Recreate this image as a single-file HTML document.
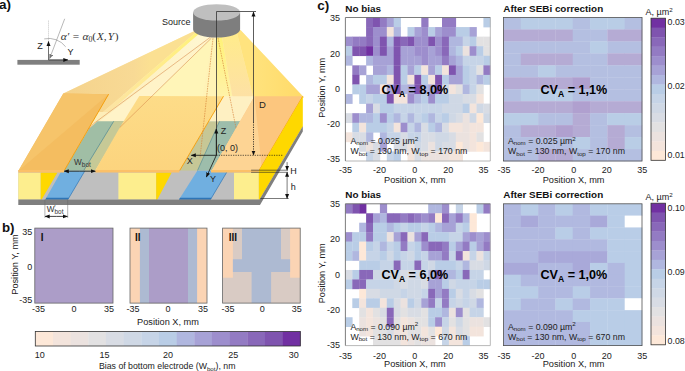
<!DOCTYPE html>
<html><head><meta charset="utf-8"><style>
html,body{margin:0;padding:0;background:#fff;}
body{width:685px;height:371px;overflow:hidden;}
svg{display:block;font-family:"Liberation Sans",sans-serif;}
</style></head><body>
<svg width="685" height="371" viewBox="0 0 685 371">
<defs>
<linearGradient id="beam" gradientUnits="userSpaceOnUse" x1="60" y1="0" x2="305" y2="0">
<stop offset="0" stop-color="#f4d18c"/>
<stop offset="0.28" stop-color="#f7da9c"/>
<stop offset="0.37" stop-color="#fbe6b2"/>
<stop offset="0.45" stop-color="#fdf0c8"/>
<stop offset="0.58" stop-color="#fff6d6"/>
<stop offset="0.64" stop-color="#fff3b0"/>
<stop offset="0.68" stop-color="#fff08f"/>
<stop offset="0.74" stop-color="#ffe887"/>
<stop offset="0.82" stop-color="#ffe27a"/>
<stop offset="1" stop-color="#ffdb6c"/>
</linearGradient>
<linearGradient id="cylb" x1="0" y1="0" x2="1" y2="0">
<stop offset="0" stop-color="#7a7a7a"/>
<stop offset="0.5" stop-color="#858585"/>
<stop offset="1" stop-color="#7a7a7a"/>
</linearGradient>
<marker id="ah" viewBox="0 0 10 10" refX="9" refY="5" markerWidth="5" markerHeight="5" orient="auto-start-reverse" markerUnits="userSpaceOnUse">
<path d="M0 1 L10 5 L0 9 Z" fill="#111"/>
</marker>
<marker id="ahg" viewBox="0 0 10 10" refX="9" refY="5" markerWidth="5" markerHeight="5" orient="auto-start-reverse" markerUnits="userSpaceOnUse">
<path d="M0 1 L10 5 L0 9 Z" fill="#777"/>
</marker>
</defs>

<!-- panel label -->
<text x="-1.0" y="9.4" font-size="13.5" font-weight="bold" fill="#111">a)</text>

<!-- inset angle diagram -->
<rect x="17.4" y="59.9" width="62.3" height="4.8" fill="#7f7f7f"/>
<line x1="48.5" y1="41.5" x2="48.5" y2="20.5" stroke="#888" stroke-width="0.6" stroke-dasharray="0.8,1.2"/>
<line x1="48.5" y1="59.9" x2="48.5" y2="41.5" stroke="#333" stroke-width="0.7" marker-end="url(#ah)"/>
<line x1="48.5" y1="59.9" x2="67.8" y2="59.9" stroke="#222" stroke-width="0.8" marker-end="url(#ah)"/>
<line x1="64.7" y1="18.8" x2="49.6" y2="58.6" stroke="#888" stroke-width="0.6" marker-end="url(#ahg)"/>
<path d="M44.2 38.9 A21.4 21.4 0 0 1 65.7 46.8" fill="none" stroke="#888" stroke-width="0.6"/>
<text x="40.1" y="49.2" font-size="9" text-anchor="middle" fill="#222">Z</text>
<text x="70.4" y="55.3" font-size="9" text-anchor="middle" fill="#222">Y</text>
<text x="60.7" y="39.6" font-size="11.4" font-family="Liberation Serif, serif" font-style="italic" fill="#333">α′<tspan dx="2.8">=</tspan><tspan dx="2.8">α</tspan><tspan font-size="7.8" dy="2" font-style="normal">0</tspan><tspan dy="-2" font-style="normal">(</tspan><tspan dx="0.6">X</tspan><tspan font-style="normal">,</tspan><tspan dx="1.2">Y</tspan><tspan font-style="normal" dx="0.6">)</tspan></text>

<!-- beam behind (back faces) -->
<linearGradient id="tanG" gradientUnits="userSpaceOnUse" x1="70" y1="0" x2="150" y2="0">
<stop offset="0" stop-color="#f5d38d"/><stop offset="0.8" stop-color="#f8da95"/><stop offset="1" stop-color="#fbe092"/>
</linearGradient>
<linearGradient id="pkG" gradientUnits="userSpaceOnUse" x1="0" y1="35" x2="0" y2="100">
<stop offset="0" stop-color="#ffeb8c"/><stop offset="1" stop-color="#fde0a6"/>
</linearGradient>
<linearGradient id="rfG" gradientUnits="userSpaceOnUse" x1="250" y1="0" x2="304" y2="0">
<stop offset="0" stop-color="#ffe37e"/><stop offset="1" stop-color="#ffda68"/>
</linearGradient>
<linearGradient id="ybG" gradientUnits="userSpaceOnUse" x1="200" y1="33" x2="106" y2="112">
<stop offset="0" stop-color="#fff27a"/><stop offset="0.5" stop-color="#ffeb90"/><stop offset="1" stop-color="#fce3a4"/>
</linearGradient>
<linearGradient id="ltG" gradientUnits="userSpaceOnUse" x1="207" y1="35" x2="100" y2="110">
<stop offset="0" stop-color="#fff7d2"/><stop offset="1" stop-color="#fdedb8"/>
</linearGradient>
<polygon points="193.4,31.5 240.5,30 304,97.5 63.3,93.5" fill="#fdeec0"/>
<polygon points="108.6,94.2 139.6,96 94.8,171 64,171" fill="#fbe6b0"/>
<polygon points="193.4,31.5 197,31.5 124,94.2 103,112 98.3,112 63.3,93.5" fill="url(#tanG)"/>
<polygon points="197,31.5 201.8,31.5 130,94.3 109.5,112 103,112 124,94.2" fill="url(#ybG)"/>
<polygon points="201.8,31.5 209,34 210.1,37.4 88.8,129.1 70,129.1 98.3,112 109.5,112 130,94.3" fill="url(#ltG)"/>
<polygon points="210.1,37.4 211.2,38.3 119.8,127.5 88.8,129.1" fill="#fff3c8"/>
<polygon points="211.2,38.3 213,38.3 202,100 119.8,127.5" fill="#fff5b8"/>
<polygon points="213,38.3 216.3,38.3 216.3,100 202,100" fill="#fff3b6"/>
<linearGradient id="brG" gradientUnits="userSpaceOnUse" x1="0" y1="36" x2="0" y2="100">
<stop offset="0" stop-color="#fff277"/><stop offset="1" stop-color="#fff2aa"/>
</linearGradient>
<polygon points="216.3,37.6 222,37 233,100 216.3,100" fill="url(#brG)"/>
<polygon points="222,37 237,33 254,100 233,100" fill="url(#pkG)"/>
<polygon points="237,33 240.5,30 304,97.5 254,100" fill="url(#rfG)"/>

<!-- substrate top surface: blocks -->
<!-- left block -->
<polygon points="63.3,93.5 108.6,94.2 64,171 18.3,171" fill="#f4bd60"/>
<polygon points="63.3,93.5 108.6,94.2 18.3,171" fill="#f6c46a"/>
<!-- trench 1 green/khaki -->
<polygon points="97.5,121.3 124.3,121.3 94.8,171 64,171 88.8,129.1" fill="#a0bea5"/>
<polygon points="113.7,121.3 124.3,121.3 94.8,171 83.4,171" fill="#c6c996"/>
<line x1="113.7" y1="121.3" x2="83.4" y2="171" stroke="#3d7d92" stroke-width="0.6"/>
<!-- middle block -->
<linearGradient id="mbG" gradientUnits="userSpaceOnUse" x1="0" y1="96" x2="0" y2="171">
<stop offset="0" stop-color="#fddc88"/><stop offset="1" stop-color="#fcd47e"/>
</linearGradient>
<polygon points="139.3,96 223.5,96.2 179.4,171 94.8,171 119.8,127.5" fill="url(#mbG)"/>
<!-- trench 2 -->
<polygon points="223.5,96.2 254.5,96.3 240.2,121.3 208.8,121.3" fill="#fef0c2"/>
<polygon points="208.8,121.3 240.2,121.3 211.5,171 179.4,171" fill="#c6c796"/>
<polygon points="219.5,121.3 240.2,121.3 211.5,171 197.3,171" fill="#9dbdab"/>
<line x1="219.5" y1="121.3" x2="197.3" y2="171" stroke="#3d7d92" stroke-width="0.5"/>
<!-- right block -->
<linearGradient id="rbG" gradientUnits="userSpaceOnUse" x1="225" y1="0" x2="295" y2="0">
<stop offset="0" stop-color="#fdd694"/><stop offset="1" stop-color="#fcc47a"/>
</linearGradient>
<polygon points="254.5,96.3 302.8,96.3 258.8,171 211.5,171" fill="#fcc67e"/>
<polygon points="254.5,96.3 211.5,171 262,171" fill="#fdd494"/>

<!-- block edges (bright orange) -->
<line x1="108.6" y1="94.2" x2="64" y2="171" stroke="#f59a00" stroke-width="0.9"/>
<line x1="223.5" y1="96.2" x2="179.4" y2="171" stroke="#f59a00" stroke-width="0.9"/>
<line x1="302.8" y1="96.3" x2="258.8" y2="171" stroke="#f59a00" stroke-width="0.9"/>


<!-- front face -->
<rect x="18.3" y="170.6" width="240.5" height="29.1" fill="#bfbfbf"/>
<rect x="18.3" y="172.6" width="22.4" height="27.1" fill="#fdee8e"/>
<polygon points="40.7,172.6 57.5,172.6 41.5,199.7 40.7,199.7" fill="#fed800"/>
<polygon points="61.5,170.8 84.9,170.8 67.8,199.7 45.2,199.7" fill="#70afe0"/>
<line x1="84.9" y1="170.8" x2="67.8" y2="199.7" stroke="#2e75b6" stroke-width="0.7"/>
<polygon points="46.3,197.8 68.9,197.8 67.8,199.7 45.2,199.7" fill="#2e75b6"/>
<rect x="118.4" y="172.6" width="37.8" height="27.1" fill="#fdee8e"/>
<polygon points="156.2,172.6 171.7,172.6 157.2,199.7 156.2,199.7" fill="#fed800"/>
<polygon points="197.3,170.8 227.6,170.8 210.4,199.7 178.9,199.7" fill="#70afe0"/>
<line x1="227.6" y1="170.8" x2="210.4" y2="199.7" stroke="#2e75b6" stroke-width="0.7"/>
<polygon points="180,197.8 211.5,197.8 210.4,199.7 178.9,199.7" fill="#2e75b6"/>
<rect x="234" y="172.6" width="24.8" height="27.1" fill="#fdee8e"/>

<!-- front edge band (top layer thickness) -->
<polygon points="18.3,170 64,170 64,172.6 18.3,172.6" fill="#fbc068"/>
<polygon points="95.2,170 179.4,170 179.4,172.6 95.2,172.6" fill="#fbc068"/>
<polygon points="211,170 258.8,170 258.8,172.6 211,172.6" fill="#fbc068"/>

<!-- right side face -->
<polygon points="258.8,171 302.8,96.3 302.8,126.5 259.5,199.7 258.8,199.7" fill="#fed800"/>
<!-- base strip -->
<polygon points="18.3,199.6 259.5,199.6 302.8,126.3 302.8,131.5 260,205 18.3,205" fill="#7f7f7f"/>

<!-- trench front edges on top -->
<line x1="64" y1="171" x2="95.2" y2="171" stroke="#b8c7a2" stroke-width="0.5"/>

<!-- beam rays -->
<polyline points="210.1,37.4 93.5,123.7 88.8,129.1" fill="none" stroke="#d6874a" stroke-width="0.55"/>
<line x1="211.2" y1="38.3" x2="119.8" y2="127.5" stroke="#d6874a" stroke-width="0.55"/>
<line x1="213" y1="38.3" x2="200" y2="158" stroke="#d47a30" stroke-width="0.6" stroke-dasharray="1.6,0.9"/>
<line x1="218" y1="38" x2="236" y2="128" stroke="#d47a30" stroke-width="0.6" stroke-dasharray="1.6,0.9"/>

<!-- source cylinder -->
<path d="M193.1 12.4 V29.4 A23.5 8.2 0 0 0 240.1 29.4 V12.4 Z" fill="#7e7e7e"/>
<ellipse cx="216.6" cy="12.4" rx="23.5" ry="8.2" fill="#bfbfbf"/>
<text x="190.6" y="25.2" font-size="9" text-anchor="end" fill="#222">Source</text>

<!-- D line and axes -->
<polyline points="216.5,155.3 216.5,11.5 256,11.5" fill="none" stroke="#333" stroke-width="0.8"/>
<line x1="253.5" y1="122" x2="253.5" y2="12" stroke="#333" stroke-width="0.8" marker-end="url(#ah)"/>
<line x1="253.5" y1="122" x2="253.5" y2="155" stroke="#111" stroke-width="0.8" stroke-dasharray="1.2,1.2" marker-end="url(#ah)"/>
<text x="262.5" y="108" font-size="9.5" text-anchor="middle" fill="#222">D</text>
<line x1="216.3" y1="155.3" x2="283" y2="155.3" stroke="#111" stroke-width="0.7" stroke-dasharray="1.2,1.2"/>
<line x1="216.3" y1="155.3" x2="216.3" y2="129" stroke="#111" stroke-width="0.8" marker-end="url(#ah)"/>
<line x1="216.3" y1="155.3" x2="191.3" y2="155.3" stroke="#111" stroke-width="0.8" marker-end="url(#ah)"/>
<line x1="216.3" y1="155.3" x2="206.4" y2="177" stroke="#111" stroke-width="0.8" marker-end="url(#ah)"/>
<text x="223.4" y="134.4" font-size="9" text-anchor="middle" fill="#222">Z</text>
<text x="189.8" y="164.3" font-size="9" text-anchor="middle" fill="#222">X</text>
<text x="213" y="182.2" font-size="9" text-anchor="middle" fill="#222">Y</text>
<text x="227.5" y="151" font-size="9" text-anchor="middle" fill="#222">(0, 0)</text>

<!-- H / h -->
<line x1="251.1" y1="170.2" x2="287.9" y2="170.2" stroke="#222" stroke-width="0.6"/>
<line x1="251.1" y1="172.3" x2="287.9" y2="172.3" stroke="#222" stroke-width="0.6"/>
<line x1="260.4" y1="198.5" x2="288.7" y2="198.5" stroke="#222" stroke-width="0.6"/>
<line x1="287.1" y1="162.1" x2="287.1" y2="170.2" stroke="#222" stroke-width="0.6" marker-end="url(#ah)"/>
<line x1="287.1" y1="185" x2="287.1" y2="172.3" stroke="#222" stroke-width="0.6" marker-end="url(#ah)"/>
<line x1="287.1" y1="185" x2="287.1" y2="198.5" stroke="#222" stroke-width="0.6" marker-end="url(#ah)"/>
<text x="293.4" y="174.3" font-size="9" text-anchor="middle" fill="#222">H</text>
<text x="293.2" y="190.4" font-size="9" text-anchor="middle" fill="#222">h</text>

<!-- W_bot arrow -->
<line x1="79.6" y1="171.2" x2="64.3" y2="171.2" stroke="#111" stroke-width="0.8" marker-end="url(#ah)"/>
<line x1="79.6" y1="171.2" x2="95.3" y2="171.2" stroke="#111" stroke-width="0.8" marker-end="url(#ah)"/>
<text x="74.1" y="165" font-size="8.2" fill="#333">W<tspan font-size="6.4" dy="1.9">bot</tspan></text>

<!-- W'bot bracket -->
<line x1="44.9" y1="199.7" x2="44.9" y2="218" stroke="#666" stroke-width="0.5"/>
<line x1="67.7" y1="199.7" x2="67.7" y2="218" stroke="#666" stroke-width="0.5"/>
<line x1="56.3" y1="216.4" x2="45.2" y2="216.4" stroke="#111" stroke-width="0.8" marker-end="url(#ah)"/>
<line x1="56.3" y1="216.4" x2="67.4" y2="216.4" stroke="#111" stroke-width="0.8" marker-end="url(#ah)"/>
<text x="46.8" y="211.9" font-size="8.2" fill="#333">W<tspan font-size="6.4" dy="1.7">bot</tspan></text>
<text x="54.3" y="209.6" font-size="7" fill="#333">'</text>

<text x="317.3" y="9.7" font-size="13.5" text-anchor="start" font-weight="bold" fill="#111" >c)</text>
<rect x="366.10" y="17.50" width="7.20" height="9.87" fill="#8968b9"/>
<rect x="373.00" y="17.50" width="7.20" height="9.87" fill="#7f54af"/>
<rect x="379.90" y="17.50" width="7.20" height="9.87" fill="#937bc3"/>
<rect x="386.80" y="17.50" width="7.20" height="9.87" fill="#a7a2d6"/>
<rect x="393.70" y="17.50" width="7.20" height="9.87" fill="#b9cde6"/>
<rect x="421.30" y="17.50" width="7.20" height="9.87" fill="#937bc3"/>
<rect x="442.00" y="17.50" width="7.20" height="9.87" fill="#937bc3"/>
<rect x="448.90" y="17.50" width="7.20" height="9.87" fill="#937bc3"/>
<rect x="483.40" y="17.50" width="7.20" height="9.87" fill="#b9cde6"/>
<rect x="366.10" y="27.07" width="7.20" height="9.87" fill="#8968b9"/>
<rect x="373.00" y="27.07" width="7.20" height="9.87" fill="#9d8ecd"/>
<rect x="379.90" y="27.07" width="7.20" height="9.87" fill="#9d8ecd"/>
<rect x="386.80" y="27.07" width="7.20" height="9.87" fill="#f3e4dc"/>
<rect x="393.70" y="27.07" width="7.20" height="9.87" fill="#b0b7df"/>
<rect x="407.50" y="27.07" width="7.20" height="9.87" fill="#b9cde6"/>
<rect x="414.40" y="27.07" width="7.20" height="9.87" fill="#a7a2d6"/>
<rect x="421.30" y="27.07" width="7.20" height="9.87" fill="#9d8ecd"/>
<rect x="428.20" y="27.07" width="7.20" height="9.87" fill="#b9cde6"/>
<rect x="435.10" y="27.07" width="7.20" height="9.87" fill="#a7a2d6"/>
<rect x="442.00" y="27.07" width="7.20" height="9.87" fill="#9d8ecd"/>
<rect x="448.90" y="27.07" width="7.20" height="9.87" fill="#9d8ecd"/>
<rect x="455.80" y="27.07" width="7.20" height="9.87" fill="#b9cde6"/>
<rect x="462.70" y="27.07" width="7.20" height="9.87" fill="#b9cde6"/>
<rect x="469.60" y="27.07" width="7.20" height="9.87" fill="#a7a2d6"/>
<rect x="345.40" y="36.63" width="7.20" height="9.87" fill="#9d8ecd"/>
<rect x="352.30" y="36.63" width="7.20" height="9.87" fill="#937bc3"/>
<rect x="359.20" y="36.63" width="7.20" height="9.87" fill="#937bc3"/>
<rect x="366.10" y="36.63" width="7.20" height="9.87" fill="#8968b9"/>
<rect x="373.00" y="36.63" width="7.20" height="9.87" fill="#9d8ecd"/>
<rect x="379.90" y="36.63" width="7.20" height="9.87" fill="#7f54af"/>
<rect x="386.80" y="36.63" width="7.20" height="9.87" fill="#b0b7df"/>
<rect x="393.70" y="36.63" width="7.20" height="9.87" fill="#7f54af"/>
<rect x="400.60" y="36.63" width="7.20" height="9.87" fill="#8968b9"/>
<rect x="407.50" y="36.63" width="7.20" height="9.87" fill="#7f54af"/>
<rect x="414.40" y="36.63" width="7.20" height="9.87" fill="#9d8ecd"/>
<rect x="421.30" y="36.63" width="7.20" height="9.87" fill="#9d8ecd"/>
<rect x="428.20" y="36.63" width="7.20" height="9.87" fill="#7f54af"/>
<rect x="435.10" y="36.63" width="7.20" height="9.87" fill="#9d8ecd"/>
<rect x="442.00" y="36.63" width="7.20" height="9.87" fill="#8968b9"/>
<rect x="448.90" y="36.63" width="7.20" height="9.87" fill="#b0b7df"/>
<rect x="455.80" y="36.63" width="7.20" height="9.87" fill="#b0b7df"/>
<rect x="462.70" y="36.63" width="7.20" height="9.87" fill="#c6d4e7"/>
<rect x="469.60" y="36.63" width="7.20" height="9.87" fill="#b9cde6"/>
<rect x="476.50" y="36.63" width="7.20" height="9.87" fill="#e2e1e2"/>
<rect x="483.40" y="36.63" width="7.20" height="9.87" fill="#e2e1e2"/>
<rect x="345.40" y="46.20" width="7.20" height="9.87" fill="#b9cde6"/>
<rect x="352.30" y="46.20" width="7.20" height="9.87" fill="#7f54af"/>
<rect x="359.20" y="46.20" width="7.20" height="9.87" fill="#7f54af"/>
<rect x="366.10" y="46.20" width="7.20" height="9.87" fill="#7130a2"/>
<rect x="373.00" y="46.20" width="7.20" height="9.87" fill="#9d8ecd"/>
<rect x="379.90" y="46.20" width="7.20" height="9.87" fill="#7f54af"/>
<rect x="386.80" y="46.20" width="7.20" height="9.87" fill="#a7a2d6"/>
<rect x="393.70" y="46.20" width="7.20" height="9.87" fill="#7f54af"/>
<rect x="400.60" y="46.20" width="7.20" height="9.87" fill="#a7a2d6"/>
<rect x="407.50" y="46.20" width="7.20" height="9.87" fill="#a7a2d6"/>
<rect x="414.40" y="46.20" width="7.20" height="9.87" fill="#9d8ecd"/>
<rect x="421.30" y="46.20" width="7.20" height="9.87" fill="#9d8ecd"/>
<rect x="428.20" y="46.20" width="7.20" height="9.87" fill="#a7a2d6"/>
<rect x="435.10" y="46.20" width="7.20" height="9.87" fill="#9d8ecd"/>
<rect x="442.00" y="46.20" width="7.20" height="9.87" fill="#8968b9"/>
<rect x="448.90" y="46.20" width="7.20" height="9.87" fill="#b0b7df"/>
<rect x="455.80" y="46.20" width="7.20" height="9.87" fill="#b9cde6"/>
<rect x="462.70" y="46.20" width="7.20" height="9.87" fill="#ebe2df"/>
<rect x="469.60" y="46.20" width="7.20" height="9.87" fill="#9d8ecd"/>
<rect x="476.50" y="46.20" width="7.20" height="9.87" fill="#b9cde6"/>
<rect x="483.40" y="46.20" width="7.20" height="9.87" fill="#e2e1e2"/>
<rect x="345.40" y="55.77" width="7.20" height="9.87" fill="#b0b7df"/>
<rect x="366.10" y="55.77" width="7.20" height="9.87" fill="#b0b7df"/>
<rect x="373.00" y="55.77" width="7.20" height="9.87" fill="#a7a2d6"/>
<rect x="379.90" y="55.77" width="7.20" height="9.87" fill="#a7a2d6"/>
<rect x="386.80" y="55.77" width="7.20" height="9.87" fill="#a7a2d6"/>
<rect x="393.70" y="55.77" width="7.20" height="9.87" fill="#7f54af"/>
<rect x="400.60" y="55.77" width="7.20" height="9.87" fill="#a7a2d6"/>
<rect x="407.50" y="55.77" width="7.20" height="9.87" fill="#a7a2d6"/>
<rect x="414.40" y="55.77" width="7.20" height="9.87" fill="#a7a2d6"/>
<rect x="421.30" y="55.77" width="7.20" height="9.87" fill="#9d8ecd"/>
<rect x="428.20" y="55.77" width="7.20" height="9.87" fill="#a7a2d6"/>
<rect x="435.10" y="55.77" width="7.20" height="9.87" fill="#a7a2d6"/>
<rect x="442.00" y="55.77" width="7.20" height="9.87" fill="#937bc3"/>
<rect x="448.90" y="55.77" width="7.20" height="9.87" fill="#a7a2d6"/>
<rect x="455.80" y="55.77" width="7.20" height="9.87" fill="#b0b7df"/>
<rect x="462.70" y="55.77" width="7.20" height="9.87" fill="#c6d4e7"/>
<rect x="469.60" y="55.77" width="7.20" height="9.87" fill="#c6d4e7"/>
<rect x="476.50" y="55.77" width="7.20" height="9.87" fill="#c6d4e7"/>
<rect x="483.40" y="55.77" width="7.20" height="9.87" fill="#b9cde6"/>
<rect x="352.30" y="65.33" width="7.20" height="9.87" fill="#937bc3"/>
<rect x="359.20" y="65.33" width="7.20" height="9.87" fill="#a7a2d6"/>
<rect x="373.00" y="65.33" width="7.20" height="9.87" fill="#a7a2d6"/>
<rect x="379.90" y="65.33" width="7.20" height="9.87" fill="#a7a2d6"/>
<rect x="386.80" y="65.33" width="7.20" height="9.87" fill="#b0b7df"/>
<rect x="393.70" y="65.33" width="7.20" height="9.87" fill="#7f54af"/>
<rect x="400.60" y="65.33" width="7.20" height="9.87" fill="#b9cde6"/>
<rect x="407.50" y="65.33" width="7.20" height="9.87" fill="#a7a2d6"/>
<rect x="414.40" y="65.33" width="7.20" height="9.87" fill="#b9cde6"/>
<rect x="421.30" y="65.33" width="7.20" height="9.87" fill="#f3e4dc"/>
<rect x="428.20" y="65.33" width="7.20" height="9.87" fill="#a7a2d6"/>
<rect x="435.10" y="65.33" width="7.20" height="9.87" fill="#b9cde6"/>
<rect x="442.00" y="65.33" width="7.20" height="9.87" fill="#f3e4dc"/>
<rect x="448.90" y="65.33" width="7.20" height="9.87" fill="#7f54af"/>
<rect x="455.80" y="65.33" width="7.20" height="9.87" fill="#a7a2d6"/>
<rect x="462.70" y="65.33" width="7.20" height="9.87" fill="#b9cde6"/>
<rect x="469.60" y="65.33" width="7.20" height="9.87" fill="#c6d4e7"/>
<rect x="476.50" y="65.33" width="7.20" height="9.87" fill="#e2e1e2"/>
<rect x="483.40" y="65.33" width="7.20" height="9.87" fill="#937bc3"/>
<rect x="352.30" y="74.90" width="7.20" height="9.87" fill="#7f54af"/>
<rect x="366.10" y="74.90" width="7.20" height="9.87" fill="#b0b7df"/>
<rect x="373.00" y="74.90" width="7.20" height="9.87" fill="#b9cde6"/>
<rect x="379.90" y="74.90" width="7.20" height="9.87" fill="#b9cde6"/>
<rect x="386.80" y="74.90" width="7.20" height="9.87" fill="#f3e4dc"/>
<rect x="393.70" y="74.90" width="7.20" height="9.87" fill="#7f54af"/>
<rect x="400.60" y="74.90" width="7.20" height="9.87" fill="#b9cde6"/>
<rect x="407.50" y="74.90" width="7.20" height="9.87" fill="#f3e4dc"/>
<rect x="414.40" y="74.90" width="7.20" height="9.87" fill="#7f54af"/>
<rect x="421.30" y="74.90" width="7.20" height="9.87" fill="#b9cde6"/>
<rect x="428.20" y="74.90" width="7.20" height="9.87" fill="#f3e4dc"/>
<rect x="435.10" y="74.90" width="7.20" height="9.87" fill="#7f54af"/>
<rect x="442.00" y="74.90" width="7.20" height="9.87" fill="#b9cde6"/>
<rect x="448.90" y="74.90" width="7.20" height="9.87" fill="#a7a2d6"/>
<rect x="455.80" y="74.90" width="7.20" height="9.87" fill="#a7a2d6"/>
<rect x="462.70" y="74.90" width="7.20" height="9.87" fill="#b9cde6"/>
<rect x="469.60" y="74.90" width="7.20" height="9.87" fill="#c6d4e7"/>
<rect x="476.50" y="74.90" width="7.20" height="9.87" fill="#b0b7df"/>
<rect x="483.40" y="74.90" width="7.20" height="9.87" fill="#b9cde6"/>
<rect x="352.30" y="84.47" width="7.20" height="9.87" fill="#b9cde6"/>
<rect x="359.20" y="84.47" width="7.20" height="9.87" fill="#b9cde6"/>
<rect x="366.10" y="84.47" width="7.20" height="9.87" fill="#a7a2d6"/>
<rect x="373.00" y="84.47" width="7.20" height="9.87" fill="#a7a2d6"/>
<rect x="379.90" y="84.47" width="7.20" height="9.87" fill="#f3e4dc"/>
<rect x="386.80" y="84.47" width="7.20" height="9.87" fill="#a7a2d6"/>
<rect x="393.70" y="84.47" width="7.20" height="9.87" fill="#7f54af"/>
<rect x="400.60" y="84.47" width="7.20" height="9.87" fill="#b0b7df"/>
<rect x="407.50" y="84.47" width="7.20" height="9.87" fill="#a7a2d6"/>
<rect x="414.40" y="84.47" width="7.20" height="9.87" fill="#7f54af"/>
<rect x="421.30" y="84.47" width="7.20" height="9.87" fill="#b0b7df"/>
<rect x="428.20" y="84.47" width="7.20" height="9.87" fill="#a7a2d6"/>
<rect x="435.10" y="84.47" width="7.20" height="9.87" fill="#7f54af"/>
<rect x="442.00" y="84.47" width="7.20" height="9.87" fill="#cfd8e5"/>
<rect x="448.90" y="84.47" width="7.20" height="9.87" fill="#f3e4dc"/>
<rect x="455.80" y="84.47" width="7.20" height="9.87" fill="#e2e1e2"/>
<rect x="462.70" y="84.47" width="7.20" height="9.87" fill="#b0b7df"/>
<rect x="469.60" y="84.47" width="7.20" height="9.87" fill="#c6d4e7"/>
<rect x="476.50" y="84.47" width="7.20" height="9.87" fill="#e2e1e2"/>
<rect x="345.40" y="94.03" width="7.20" height="9.87" fill="#b0b7df"/>
<rect x="359.20" y="94.03" width="7.20" height="9.87" fill="#b9cde6"/>
<rect x="366.10" y="94.03" width="7.20" height="9.87" fill="#c6d4e7"/>
<rect x="373.00" y="94.03" width="7.20" height="9.87" fill="#b9cde6"/>
<rect x="379.90" y="94.03" width="7.20" height="9.87" fill="#b9cde6"/>
<rect x="386.80" y="94.03" width="7.20" height="9.87" fill="#7f54af"/>
<rect x="393.70" y="94.03" width="7.20" height="9.87" fill="#f3e4dc"/>
<rect x="400.60" y="94.03" width="7.20" height="9.87" fill="#f3e4dc"/>
<rect x="407.50" y="94.03" width="7.20" height="9.87" fill="#9d8ecd"/>
<rect x="414.40" y="94.03" width="7.20" height="9.87" fill="#b0b7df"/>
<rect x="421.30" y="94.03" width="7.20" height="9.87" fill="#b9cde6"/>
<rect x="428.20" y="94.03" width="7.20" height="9.87" fill="#9d8ecd"/>
<rect x="435.10" y="94.03" width="7.20" height="9.87" fill="#b9cde6"/>
<rect x="442.00" y="94.03" width="7.20" height="9.87" fill="#b9cde6"/>
<rect x="448.90" y="94.03" width="7.20" height="9.87" fill="#cfd8e5"/>
<rect x="455.80" y="94.03" width="7.20" height="9.87" fill="#cfd8e5"/>
<rect x="462.70" y="94.03" width="7.20" height="9.87" fill="#d8dce4"/>
<rect x="469.60" y="94.03" width="7.20" height="9.87" fill="#d8dce4"/>
<rect x="476.50" y="94.03" width="7.20" height="9.87" fill="#f3e4dc"/>
<rect x="366.10" y="103.60" width="7.20" height="9.87" fill="#a7a2d6"/>
<rect x="373.00" y="103.60" width="7.20" height="9.87" fill="#d8dce4"/>
<rect x="379.90" y="103.60" width="7.20" height="9.87" fill="#b9cde6"/>
<rect x="386.80" y="103.60" width="7.20" height="9.87" fill="#b9cde6"/>
<rect x="393.70" y="103.60" width="7.20" height="9.87" fill="#c6d4e7"/>
<rect x="400.60" y="103.60" width="7.20" height="9.87" fill="#c6d4e7"/>
<rect x="407.50" y="103.60" width="7.20" height="9.87" fill="#c6d4e7"/>
<rect x="414.40" y="103.60" width="7.20" height="9.87" fill="#c6d4e7"/>
<rect x="421.30" y="103.60" width="7.20" height="9.87" fill="#c6d4e7"/>
<rect x="428.20" y="103.60" width="7.20" height="9.87" fill="#c6d4e7"/>
<rect x="435.10" y="103.60" width="7.20" height="9.87" fill="#c6d4e7"/>
<rect x="442.00" y="103.60" width="7.20" height="9.87" fill="#cfd8e5"/>
<rect x="448.90" y="103.60" width="7.20" height="9.87" fill="#cfd8e5"/>
<rect x="455.80" y="103.60" width="7.20" height="9.87" fill="#cfd8e5"/>
<rect x="462.70" y="103.60" width="7.20" height="9.87" fill="#b9cde6"/>
<rect x="469.60" y="103.60" width="7.20" height="9.87" fill="#f3e4dc"/>
<rect x="476.50" y="103.60" width="7.20" height="9.87" fill="#cfd8e5"/>
<rect x="483.40" y="103.60" width="7.20" height="9.87" fill="#d8dce4"/>
<rect x="345.40" y="113.17" width="7.20" height="9.87" fill="#d8dce4"/>
<rect x="352.30" y="113.17" width="7.20" height="9.87" fill="#9d8ecd"/>
<rect x="359.20" y="113.17" width="7.20" height="9.87" fill="#b0b7df"/>
<rect x="366.10" y="113.17" width="7.20" height="9.87" fill="#b0b7df"/>
<rect x="373.00" y="113.17" width="7.20" height="9.87" fill="#b9cde6"/>
<rect x="379.90" y="113.17" width="7.20" height="9.87" fill="#9d8ecd"/>
<rect x="386.80" y="113.17" width="7.20" height="9.87" fill="#b9cde6"/>
<rect x="393.70" y="113.17" width="7.20" height="9.87" fill="#b0b7df"/>
<rect x="400.60" y="113.17" width="7.20" height="9.87" fill="#c6d4e7"/>
<rect x="407.50" y="113.17" width="7.20" height="9.87" fill="#b0b7df"/>
<rect x="414.40" y="113.17" width="7.20" height="9.87" fill="#c6d4e7"/>
<rect x="421.30" y="113.17" width="7.20" height="9.87" fill="#b9cde6"/>
<rect x="428.20" y="113.17" width="7.20" height="9.87" fill="#b0b7df"/>
<rect x="435.10" y="113.17" width="7.20" height="9.87" fill="#c6d4e7"/>
<rect x="442.00" y="113.17" width="7.20" height="9.87" fill="#b9cde6"/>
<rect x="448.90" y="113.17" width="7.20" height="9.87" fill="#cfd8e5"/>
<rect x="455.80" y="113.17" width="7.20" height="9.87" fill="#d8dce4"/>
<rect x="462.70" y="113.17" width="7.20" height="9.87" fill="#ebe2df"/>
<rect x="469.60" y="113.17" width="7.20" height="9.87" fill="#cfd8e5"/>
<rect x="476.50" y="113.17" width="7.20" height="9.87" fill="#fde8d8"/>
<rect x="483.40" y="113.17" width="7.20" height="9.87" fill="#cfd8e5"/>
<rect x="352.30" y="122.73" width="7.20" height="9.87" fill="#b9cde6"/>
<rect x="359.20" y="122.73" width="7.20" height="9.87" fill="#f3e4dc"/>
<rect x="366.10" y="122.73" width="7.20" height="9.87" fill="#b9cde6"/>
<rect x="373.00" y="122.73" width="7.20" height="9.87" fill="#b9cde6"/>
<rect x="379.90" y="122.73" width="7.20" height="9.87" fill="#b9cde6"/>
<rect x="386.80" y="122.73" width="7.20" height="9.87" fill="#c6d4e7"/>
<rect x="393.70" y="122.73" width="7.20" height="9.87" fill="#f3e4dc"/>
<rect x="400.60" y="122.73" width="7.20" height="9.87" fill="#9d8ecd"/>
<rect x="407.50" y="122.73" width="7.20" height="9.87" fill="#c6d4e7"/>
<rect x="414.40" y="122.73" width="7.20" height="9.87" fill="#b0b7df"/>
<rect x="421.30" y="122.73" width="7.20" height="9.87" fill="#d8dce4"/>
<rect x="428.20" y="122.73" width="7.20" height="9.87" fill="#b9cde6"/>
<rect x="435.10" y="122.73" width="7.20" height="9.87" fill="#b0b7df"/>
<rect x="442.00" y="122.73" width="7.20" height="9.87" fill="#d8dce4"/>
<rect x="448.90" y="122.73" width="7.20" height="9.87" fill="#f3e4dc"/>
<rect x="455.80" y="122.73" width="7.20" height="9.87" fill="#f3e4dc"/>
<rect x="462.70" y="122.73" width="7.20" height="9.87" fill="#ebe2df"/>
<rect x="469.60" y="122.73" width="7.20" height="9.87" fill="#f3e4dc"/>
<rect x="476.50" y="122.73" width="7.20" height="9.87" fill="#f3e4dc"/>
<rect x="345.40" y="132.30" width="7.20" height="9.87" fill="#f3e4dc"/>
<rect x="352.30" y="132.30" width="7.20" height="9.87" fill="#d8dce4"/>
<rect x="359.20" y="132.30" width="7.20" height="9.87" fill="#d8dce4"/>
<rect x="366.10" y="132.30" width="7.20" height="9.87" fill="#b0b7df"/>
<rect x="379.90" y="132.30" width="7.20" height="9.87" fill="#b0b7df"/>
<rect x="386.80" y="132.30" width="7.20" height="9.87" fill="#c6d4e7"/>
<rect x="393.70" y="132.30" width="7.20" height="9.87" fill="#c6d4e7"/>
<rect x="400.60" y="132.30" width="7.20" height="9.87" fill="#d8dce4"/>
<rect x="407.50" y="132.30" width="7.20" height="9.87" fill="#c6d4e7"/>
<rect x="414.40" y="132.30" width="7.20" height="9.87" fill="#c6d4e7"/>
<rect x="421.30" y="132.30" width="7.20" height="9.87" fill="#d8dce4"/>
<rect x="428.20" y="132.30" width="7.20" height="9.87" fill="#d8dce4"/>
<rect x="435.10" y="132.30" width="7.20" height="9.87" fill="#cfd8e5"/>
<rect x="442.00" y="132.30" width="7.20" height="9.87" fill="#cfd8e5"/>
<rect x="448.90" y="132.30" width="7.20" height="9.87" fill="#d8dce4"/>
<rect x="455.80" y="132.30" width="7.20" height="9.87" fill="#ebe2df"/>
<rect x="462.70" y="132.30" width="7.20" height="9.87" fill="#ebe2df"/>
<rect x="469.60" y="132.30" width="7.20" height="9.87" fill="#f3e4dc"/>
<rect x="476.50" y="132.30" width="7.20" height="9.87" fill="#e2e1e2"/>
<rect x="359.20" y="141.87" width="7.20" height="9.87" fill="#d8dce4"/>
<rect x="366.10" y="141.87" width="7.20" height="9.87" fill="#ebe2df"/>
<rect x="373.00" y="141.87" width="7.20" height="9.87" fill="#d8dce4"/>
<rect x="379.90" y="141.87" width="7.20" height="9.87" fill="#a7a2d6"/>
<rect x="393.70" y="141.87" width="7.20" height="9.87" fill="#d8dce4"/>
<rect x="400.60" y="141.87" width="7.20" height="9.87" fill="#d8dce4"/>
<rect x="407.50" y="141.87" width="7.20" height="9.87" fill="#ebe2df"/>
<rect x="414.40" y="141.87" width="7.20" height="9.87" fill="#cfd8e5"/>
<rect x="421.30" y="141.87" width="7.20" height="9.87" fill="#d8dce4"/>
<rect x="428.20" y="141.87" width="7.20" height="9.87" fill="#ebe2df"/>
<rect x="435.10" y="141.87" width="7.20" height="9.87" fill="#cfd8e5"/>
<rect x="442.00" y="141.87" width="7.20" height="9.87" fill="#d8dce4"/>
<rect x="448.90" y="141.87" width="7.20" height="9.87" fill="#d8dce4"/>
<rect x="455.80" y="141.87" width="7.20" height="9.87" fill="#fde8d8"/>
<rect x="462.70" y="141.87" width="7.20" height="9.87" fill="#ebe2df"/>
<rect x="469.60" y="141.87" width="7.20" height="9.87" fill="#f3e4dc"/>
<rect x="476.50" y="141.87" width="7.20" height="9.87" fill="#fde8d8"/>
<rect x="483.40" y="141.87" width="7.20" height="9.87" fill="#f3e4dc"/>
<rect x="366.10" y="151.43" width="7.20" height="9.87" fill="#c6d4e7"/>
<rect x="373.00" y="151.43" width="7.20" height="9.87" fill="#d8dce4"/>
<rect x="386.80" y="151.43" width="7.20" height="9.87" fill="#c6d4e7"/>
<rect x="393.70" y="151.43" width="7.20" height="9.87" fill="#b9cde6"/>
<rect x="407.50" y="151.43" width="7.20" height="9.87" fill="#f3e4dc"/>
<rect x="414.40" y="151.43" width="7.20" height="9.87" fill="#d8dce4"/>
<rect x="421.30" y="151.43" width="7.20" height="9.87" fill="#ebe2df"/>
<rect x="428.20" y="151.43" width="7.20" height="9.87" fill="#ebe2df"/>
<rect x="435.10" y="151.43" width="7.20" height="9.87" fill="#ebe2df"/>
<rect x="442.00" y="151.43" width="7.20" height="9.87" fill="#ebe2df"/>
<rect x="448.90" y="151.43" width="7.20" height="9.87" fill="#f3e4dc"/>
<rect x="455.80" y="151.43" width="7.20" height="9.87" fill="#f3e4dc"/>
<path d="M490.3 17.5 V161.0 H345.4" fill="none" stroke="#b0b0b0" stroke-width="0.9"/>
<path d="M345.4 161.0 V17.5 H490.3" fill="none" stroke="#6e6e6e" stroke-width="0.9"/>
<rect x="503.50" y="17.50" width="17.61" height="12.26" fill="#b4bfe1"/>
<rect x="520.81" y="17.50" width="17.61" height="12.26" fill="#b9cde6"/>
<rect x="538.12" y="17.50" width="17.61" height="12.26" fill="#b9cde6"/>
<rect x="555.44" y="17.50" width="17.61" height="12.26" fill="#b9cde6"/>
<rect x="572.75" y="17.50" width="17.61" height="12.26" fill="#b4bfe1"/>
<rect x="590.06" y="17.50" width="17.61" height="12.26" fill="#b9cde6"/>
<rect x="607.38" y="17.50" width="17.61" height="12.26" fill="#b9cde6"/>
<rect x="624.69" y="17.50" width="17.61" height="12.26" fill="#b4bfe1"/>
<rect x="503.50" y="29.46" width="17.61" height="12.26" fill="#b5abd4"/>
<rect x="520.81" y="29.46" width="17.61" height="12.26" fill="#b5abd4"/>
<rect x="538.12" y="29.46" width="17.61" height="12.26" fill="#b5abd4"/>
<rect x="555.44" y="29.46" width="17.61" height="12.26" fill="#b5abd4"/>
<rect x="572.75" y="29.46" width="17.61" height="12.26" fill="#b4bfe1"/>
<rect x="590.06" y="29.46" width="17.61" height="12.26" fill="#b4bfe1"/>
<rect x="607.38" y="29.46" width="17.61" height="12.26" fill="#b5abd4"/>
<rect x="624.69" y="29.46" width="17.61" height="12.26" fill="#b5abd4"/>
<rect x="503.50" y="41.42" width="17.61" height="12.26" fill="#b4bfe1"/>
<rect x="520.81" y="41.42" width="17.61" height="12.26" fill="#b4bfe1"/>
<rect x="538.12" y="41.42" width="17.61" height="12.26" fill="#b4bfe1"/>
<rect x="555.44" y="41.42" width="17.61" height="12.26" fill="#b4bfe1"/>
<rect x="572.75" y="41.42" width="17.61" height="12.26" fill="#b4bfe1"/>
<rect x="590.06" y="41.42" width="17.61" height="12.26" fill="#b9cde6"/>
<rect x="607.38" y="41.42" width="17.61" height="12.26" fill="#b4bfe1"/>
<rect x="624.69" y="41.42" width="17.61" height="12.26" fill="#b4bfe1"/>
<rect x="503.50" y="53.38" width="17.61" height="12.26" fill="#b4bfe1"/>
<rect x="520.81" y="53.38" width="17.61" height="12.26" fill="#b5abd4"/>
<rect x="538.12" y="53.38" width="17.61" height="12.26" fill="#b5abd4"/>
<rect x="555.44" y="53.38" width="17.61" height="12.26" fill="#b5abd4"/>
<rect x="572.75" y="53.38" width="17.61" height="12.26" fill="#b4bfe1"/>
<rect x="590.06" y="53.38" width="17.61" height="12.26" fill="#b4bfe1"/>
<rect x="607.38" y="53.38" width="17.61" height="12.26" fill="#b5abd4"/>
<rect x="624.69" y="53.38" width="17.61" height="12.26" fill="#b5abd4"/>
<rect x="503.50" y="65.33" width="17.61" height="12.26" fill="#b4bfe1"/>
<rect x="520.81" y="65.33" width="17.61" height="12.26" fill="#b4bfe1"/>
<rect x="538.12" y="65.33" width="17.61" height="12.26" fill="#b9cde6"/>
<rect x="555.44" y="65.33" width="17.61" height="12.26" fill="#b4bfe1"/>
<rect x="572.75" y="65.33" width="17.61" height="12.26" fill="#b4bfe1"/>
<rect x="590.06" y="65.33" width="17.61" height="12.26" fill="#b4bfe1"/>
<rect x="607.38" y="65.33" width="17.61" height="12.26" fill="#b4bfe1"/>
<rect x="624.69" y="65.33" width="17.61" height="12.26" fill="#b4bfe1"/>
<rect x="503.50" y="77.29" width="17.61" height="12.26" fill="#b5abd4"/>
<rect x="520.81" y="77.29" width="17.61" height="12.26" fill="#b5abd4"/>
<rect x="538.12" y="77.29" width="17.61" height="12.26" fill="#b5abd4"/>
<rect x="555.44" y="77.29" width="17.61" height="12.26" fill="#b5abd4"/>
<rect x="572.75" y="77.29" width="17.61" height="12.26" fill="#b0a0cf"/>
<rect x="590.06" y="77.29" width="17.61" height="12.26" fill="#b4bfe1"/>
<rect x="607.38" y="77.29" width="17.61" height="12.26" fill="#b4bfe1"/>
<rect x="624.69" y="77.29" width="17.61" height="12.26" fill="#b4bfe1"/>
<rect x="503.50" y="89.25" width="17.61" height="12.26" fill="#b4bfe1"/>
<rect x="520.81" y="89.25" width="17.61" height="12.26" fill="#b9cde6"/>
<rect x="538.12" y="89.25" width="17.61" height="12.26" fill="#b9cde6"/>
<rect x="555.44" y="89.25" width="17.61" height="12.26" fill="#b9cde6"/>
<rect x="572.75" y="89.25" width="17.61" height="12.26" fill="#b4bfe1"/>
<rect x="590.06" y="89.25" width="17.61" height="12.26" fill="#b4bfe1"/>
<rect x="607.38" y="89.25" width="17.61" height="12.26" fill="#b4bfe1"/>
<rect x="624.69" y="89.25" width="17.61" height="12.26" fill="#b4bfe1"/>
<rect x="503.50" y="101.21" width="17.61" height="12.26" fill="#b5abd4"/>
<rect x="520.81" y="101.21" width="17.61" height="12.26" fill="#b5abd4"/>
<rect x="538.12" y="101.21" width="17.61" height="12.26" fill="#b5abd4"/>
<rect x="555.44" y="101.21" width="17.61" height="12.26" fill="#b5abd4"/>
<rect x="572.75" y="101.21" width="17.61" height="12.26" fill="#b0a0cf"/>
<rect x="590.06" y="101.21" width="17.61" height="12.26" fill="#b5abd4"/>
<rect x="607.38" y="101.21" width="17.61" height="12.26" fill="#b5abd4"/>
<rect x="624.69" y="101.21" width="17.61" height="12.26" fill="#b5abd4"/>
<rect x="503.50" y="113.17" width="17.61" height="12.26" fill="#b9cde6"/>
<rect x="520.81" y="113.17" width="17.61" height="12.26" fill="#b9cde6"/>
<rect x="538.12" y="113.17" width="17.61" height="12.26" fill="#b4bfe1"/>
<rect x="555.44" y="113.17" width="17.61" height="12.26" fill="#b4bfe1"/>
<rect x="572.75" y="113.17" width="17.61" height="12.26" fill="#b5abd4"/>
<rect x="590.06" y="113.17" width="17.61" height="12.26" fill="#b4bfe1"/>
<rect x="607.38" y="113.17" width="17.61" height="12.26" fill="#b9cde6"/>
<rect x="624.69" y="113.17" width="17.61" height="12.26" fill="#b9cde6"/>
<rect x="503.50" y="125.12" width="17.61" height="12.26" fill="#b4bfe1"/>
<rect x="520.81" y="125.12" width="17.61" height="12.26" fill="#b5abd4"/>
<rect x="538.12" y="125.12" width="17.61" height="12.26" fill="#b5abd4"/>
<rect x="555.44" y="125.12" width="17.61" height="12.26" fill="#b0a0cf"/>
<rect x="572.75" y="125.12" width="17.61" height="12.26" fill="#b5abd4"/>
<rect x="590.06" y="125.12" width="17.61" height="12.26" fill="#b4bfe1"/>
<rect x="607.38" y="125.12" width="17.61" height="12.26" fill="#b5abd4"/>
<rect x="624.69" y="125.12" width="17.61" height="12.26" fill="#b4bfe1"/>
<rect x="503.50" y="137.08" width="17.61" height="12.26" fill="#b4bfe1"/>
<rect x="520.81" y="137.08" width="17.61" height="12.26" fill="#b4bfe1"/>
<rect x="538.12" y="137.08" width="17.61" height="12.26" fill="#b4bfe1"/>
<rect x="555.44" y="137.08" width="17.61" height="12.26" fill="#b4bfe1"/>
<rect x="572.75" y="137.08" width="17.61" height="12.26" fill="#b9cde6"/>
<rect x="590.06" y="137.08" width="17.61" height="12.26" fill="#b4bfe1"/>
<rect x="607.38" y="137.08" width="17.61" height="12.26" fill="#b5abd4"/>
<rect x="624.69" y="137.08" width="17.61" height="12.26" fill="#b9cde6"/>
<rect x="503.50" y="149.04" width="17.61" height="12.26" fill="#b4bfe1"/>
<rect x="520.81" y="149.04" width="17.61" height="12.26" fill="#b4bfe1"/>
<rect x="538.12" y="149.04" width="17.61" height="12.26" fill="#b5abd4"/>
<rect x="555.44" y="149.04" width="17.61" height="12.26" fill="#b5abd4"/>
<rect x="572.75" y="149.04" width="17.61" height="12.26" fill="#b4bfe1"/>
<rect x="590.06" y="149.04" width="17.61" height="12.26" fill="#b4bfe1"/>
<rect x="607.38" y="149.04" width="17.61" height="12.26" fill="#b4bfe1"/>
<rect x="624.69" y="149.04" width="17.61" height="12.26" fill="#b4bfe1"/>
<rect x="503.5" y="17.5" width="138.5" height="143.5" fill="none" stroke="#505050" stroke-width="0.8"/>
<text x="345.3" y="12.0" font-size="9.9" text-anchor="start" font-weight="bold" fill="#111" >No bias</text>
<text x="503.3" y="12.0" font-size="9.9" text-anchor="start" font-weight="bold" fill="#111" >After SEBi correction</text>
<text x="340" y="21.099999999999998" font-size="9" text-anchor="end" font-weight="normal" fill="#222" >35</text>
<text x="340" y="56.6" font-size="9" text-anchor="end" font-weight="normal" fill="#222" >20</text>
<text x="340" y="91.60000000000001" font-size="9" text-anchor="end" font-weight="normal" fill="#222" >0</text>
<text x="340" y="126.60000000000001" font-size="9" text-anchor="end" font-weight="normal" fill="#222" >-20</text>
<text x="340" y="161.6" font-size="9" text-anchor="end" font-weight="normal" fill="#222" >-35</text>
<text x="345.5" y="172.5" font-size="9" text-anchor="middle" font-weight="normal" fill="#222" >-35</text>
<text x="379.6" y="172.5" font-size="9" text-anchor="middle" font-weight="normal" fill="#222" >-20</text>
<text x="414.8" y="172.5" font-size="9" text-anchor="middle" font-weight="normal" fill="#222" >0</text>
<text x="448.2" y="172.5" font-size="9" text-anchor="middle" font-weight="normal" fill="#222" >20</text>
<text x="483.4" y="172.5" font-size="9" text-anchor="middle" font-weight="normal" fill="#222" >35</text>
<text x="504.0" y="172.5" font-size="9" text-anchor="middle" font-weight="normal" fill="#222" >-35</text>
<text x="537.9" y="172.5" font-size="9" text-anchor="middle" font-weight="normal" fill="#222" >-20</text>
<text x="573.8" y="172.5" font-size="9" text-anchor="middle" font-weight="normal" fill="#222" >0</text>
<text x="606.8" y="172.5" font-size="9" text-anchor="middle" font-weight="normal" fill="#222" >20</text>
<text x="642.2" y="172.5" font-size="9" text-anchor="middle" font-weight="normal" fill="#222" >35</text>
<text x="414.9" y="182.6" font-size="9.2" text-anchor="middle" font-weight="normal" fill="#222" >Position X, mm</text>
<text x="573.6" y="182.6" font-size="9.2" text-anchor="middle" font-weight="normal" fill="#222" >Position X, mm</text>
<text x="0" y="0" font-size="9.1" text-anchor="middle" font-weight="normal" fill="#222" transform="translate(324.7,87.8) rotate(-90)">Position Y, mm</text>
<text x="381.4" y="94.0" font-size="12.6" font-weight="bold" fill="#000">CV<tspan font-size="8.6" dy="3.4">A</tspan><tspan dy="-3.4"> = 8,0%</tspan></text>
<text x="540.5" y="94.0" font-size="12.6" font-weight="bold" fill="#000">CV<tspan font-size="8.6" dy="3.4">A</tspan><tspan dy="-3.4"> = 1,1%</tspan></text>
<text x="350.4" y="144.2" font-size="8.75" fill="#222">A<tspan font-size="6.1" dy="1.1">nom</tspan><tspan dy="-1.1"> = 0.025 µm</tspan><tspan font-size="6.2" dy="-3.2">2</tspan></text>
<text x="350.4" y="154.3" font-size="8.75" fill="#222">W<tspan font-size="6.2" dy="1.4">bot</tspan><tspan dy="-1.4"> = 130 nm, W</tspan><tspan font-size="6.2" dy="1.4">top</tspan><tspan dy="-1.4"> = 170 nm</tspan></text>
<text x="508.0" y="144.2" font-size="8.75" fill="#222">A<tspan font-size="6.1" dy="1.1">nom</tspan><tspan dy="-1.1"> = 0.025 µm</tspan><tspan font-size="6.2" dy="-3.2">2</tspan></text>
<text x="508.0" y="154.3" font-size="8.75" fill="#222">W<tspan font-size="6.2" dy="1.4">bot</tspan><tspan dy="-1.4"> = 130 nm, W</tspan><tspan font-size="6.2" dy="1.4">top</tspan><tspan dy="-1.4"> = 170 nm</tspan></text>
<rect x="651" y="18.20" width="14.600000000000023" height="9.77" fill="#7130a2"/>
<rect x="651" y="27.67" width="14.600000000000023" height="9.77" fill="#7f54af"/>
<rect x="651" y="37.15" width="14.600000000000023" height="9.77" fill="#8968b9"/>
<rect x="651" y="46.62" width="14.600000000000023" height="9.77" fill="#937bc3"/>
<rect x="651" y="56.09" width="14.600000000000023" height="9.77" fill="#9d8ecd"/>
<rect x="651" y="65.57" width="14.600000000000023" height="9.77" fill="#a7a2d6"/>
<rect x="651" y="75.04" width="14.600000000000023" height="9.77" fill="#b0b7df"/>
<rect x="651" y="84.51" width="14.600000000000023" height="9.77" fill="#b9cde6"/>
<rect x="651" y="93.99" width="14.600000000000023" height="9.77" fill="#c6d4e7"/>
<rect x="651" y="103.46" width="14.600000000000023" height="9.77" fill="#cfd8e5"/>
<rect x="651" y="112.93" width="14.600000000000023" height="9.77" fill="#d8dce4"/>
<rect x="651" y="122.41" width="14.600000000000023" height="9.77" fill="#e2e1e2"/>
<rect x="651" y="131.88" width="14.600000000000023" height="9.77" fill="#ebe2df"/>
<rect x="651" y="141.35" width="14.600000000000023" height="9.77" fill="#f3e4dc"/>
<rect x="651" y="150.83" width="14.600000000000023" height="9.77" fill="#fde8d8"/>
<rect x="651" y="18.2" width="14.600000000000023" height="142.10000000000002" fill="none" stroke="#333" stroke-width="0.8"/>
<text x="667.6" y="24.900000000000002" font-size="8.8" text-anchor="start" font-weight="normal" fill="#222" >0.03</text>
<text x="667.6" y="89.3" font-size="8.8" text-anchor="start" font-weight="normal" fill="#222" >0.02</text>
<text x="667.6" y="158.0" font-size="8.8" text-anchor="start" font-weight="normal" fill="#222" >0.01</text>
<text x="645.6" y="14.899999999999999" font-size="9" fill="#222">A, µm<tspan font-size="6.2" dy="-3.3">2</tspan></text>
<rect x="345.40" y="203.80" width="7.20" height="9.75" fill="#937bc3"/>
<rect x="352.30" y="203.80" width="7.20" height="9.75" fill="#7f54af"/>
<rect x="359.20" y="203.80" width="7.20" height="9.75" fill="#7130a2"/>
<rect x="379.90" y="203.80" width="7.20" height="9.75" fill="#9d8ecd"/>
<rect x="428.20" y="203.80" width="7.20" height="9.75" fill="#b0b7df"/>
<rect x="435.10" y="203.80" width="7.20" height="9.75" fill="#b0b7df"/>
<rect x="442.00" y="203.80" width="7.20" height="9.75" fill="#9d8ecd"/>
<rect x="455.80" y="203.80" width="7.20" height="9.75" fill="#c6d4e7"/>
<rect x="476.50" y="203.80" width="7.20" height="9.75" fill="#b9cde6"/>
<rect x="483.40" y="203.80" width="7.20" height="9.75" fill="#937bc3"/>
<rect x="366.10" y="213.25" width="7.20" height="9.75" fill="#7f54af"/>
<rect x="373.00" y="213.25" width="7.20" height="9.75" fill="#a7a2d6"/>
<rect x="379.90" y="213.25" width="7.20" height="9.75" fill="#b0b7df"/>
<rect x="386.80" y="213.25" width="7.20" height="9.75" fill="#8968b9"/>
<rect x="393.70" y="213.25" width="7.20" height="9.75" fill="#8968b9"/>
<rect x="400.60" y="213.25" width="7.20" height="9.75" fill="#937bc3"/>
<rect x="407.50" y="213.25" width="7.20" height="9.75" fill="#8968b9"/>
<rect x="414.40" y="213.25" width="7.20" height="9.75" fill="#937bc3"/>
<rect x="421.30" y="213.25" width="7.20" height="9.75" fill="#9d8ecd"/>
<rect x="428.20" y="213.25" width="7.20" height="9.75" fill="#937bc3"/>
<rect x="435.10" y="213.25" width="7.20" height="9.75" fill="#fde8d8"/>
<rect x="442.00" y="213.25" width="7.20" height="9.75" fill="#8968b9"/>
<rect x="448.90" y="213.25" width="7.20" height="9.75" fill="#a7a2d6"/>
<rect x="455.80" y="213.25" width="7.20" height="9.75" fill="#937bc3"/>
<rect x="462.70" y="213.25" width="7.20" height="9.75" fill="#b0b7df"/>
<rect x="469.60" y="213.25" width="7.20" height="9.75" fill="#fde8d8"/>
<rect x="359.20" y="222.71" width="7.20" height="9.75" fill="#b0b7df"/>
<rect x="366.10" y="222.71" width="7.20" height="9.75" fill="#8968b9"/>
<rect x="373.00" y="222.71" width="7.20" height="9.75" fill="#b9cde6"/>
<rect x="379.90" y="222.71" width="7.20" height="9.75" fill="#b9cde6"/>
<rect x="386.80" y="222.71" width="7.20" height="9.75" fill="#b0b7df"/>
<rect x="393.70" y="222.71" width="7.20" height="9.75" fill="#b9cde6"/>
<rect x="400.60" y="222.71" width="7.20" height="9.75" fill="#c6d4e7"/>
<rect x="407.50" y="222.71" width="7.20" height="9.75" fill="#b9cde6"/>
<rect x="414.40" y="222.71" width="7.20" height="9.75" fill="#b9cde6"/>
<rect x="421.30" y="222.71" width="7.20" height="9.75" fill="#c6d4e7"/>
<rect x="428.20" y="222.71" width="7.20" height="9.75" fill="#b9cde6"/>
<rect x="435.10" y="222.71" width="7.20" height="9.75" fill="#b0b7df"/>
<rect x="442.00" y="222.71" width="7.20" height="9.75" fill="#a7a2d6"/>
<rect x="448.90" y="222.71" width="7.20" height="9.75" fill="#a7a2d6"/>
<rect x="455.80" y="222.71" width="7.20" height="9.75" fill="#c6d4e7"/>
<rect x="462.70" y="222.71" width="7.20" height="9.75" fill="#b9cde6"/>
<rect x="469.60" y="222.71" width="7.20" height="9.75" fill="#fde8d8"/>
<rect x="345.40" y="232.16" width="7.20" height="9.75" fill="#9d8ecd"/>
<rect x="352.30" y="232.16" width="7.20" height="9.75" fill="#b9cde6"/>
<rect x="359.20" y="232.16" width="7.20" height="9.75" fill="#b9cde6"/>
<rect x="366.10" y="232.16" width="7.20" height="9.75" fill="#937bc3"/>
<rect x="373.00" y="232.16" width="7.20" height="9.75" fill="#b9cde6"/>
<rect x="379.90" y="232.16" width="7.20" height="9.75" fill="#b9cde6"/>
<rect x="386.80" y="232.16" width="7.20" height="9.75" fill="#ebe2df"/>
<rect x="393.70" y="232.16" width="7.20" height="9.75" fill="#a7a2d6"/>
<rect x="400.60" y="232.16" width="7.20" height="9.75" fill="#8968b9"/>
<rect x="407.50" y="232.16" width="7.20" height="9.75" fill="#ebe2df"/>
<rect x="414.40" y="232.16" width="7.20" height="9.75" fill="#a7a2d6"/>
<rect x="421.30" y="232.16" width="7.20" height="9.75" fill="#8968b9"/>
<rect x="428.20" y="232.16" width="7.20" height="9.75" fill="#b9cde6"/>
<rect x="435.10" y="232.16" width="7.20" height="9.75" fill="#b9cde6"/>
<rect x="442.00" y="232.16" width="7.20" height="9.75" fill="#b9cde6"/>
<rect x="448.90" y="232.16" width="7.20" height="9.75" fill="#c6d4e7"/>
<rect x="455.80" y="232.16" width="7.20" height="9.75" fill="#c6d4e7"/>
<rect x="462.70" y="232.16" width="7.20" height="9.75" fill="#a7a2d6"/>
<rect x="469.60" y="232.16" width="7.20" height="9.75" fill="#9d8ecd"/>
<rect x="476.50" y="232.16" width="7.20" height="9.75" fill="#a7a2d6"/>
<rect x="483.40" y="232.16" width="7.20" height="9.75" fill="#9d8ecd"/>
<rect x="345.40" y="241.61" width="7.20" height="9.75" fill="#b9cde6"/>
<rect x="352.30" y="241.61" width="7.20" height="9.75" fill="#b9cde6"/>
<rect x="359.20" y="241.61" width="7.20" height="9.75" fill="#fde8d8"/>
<rect x="366.10" y="241.61" width="7.20" height="9.75" fill="#b9cde6"/>
<rect x="373.00" y="241.61" width="7.20" height="9.75" fill="#c6d4e7"/>
<rect x="379.90" y="241.61" width="7.20" height="9.75" fill="#b0b7df"/>
<rect x="386.80" y="241.61" width="7.20" height="9.75" fill="#c6d4e7"/>
<rect x="393.70" y="241.61" width="7.20" height="9.75" fill="#b9cde6"/>
<rect x="400.60" y="241.61" width="7.20" height="9.75" fill="#937bc3"/>
<rect x="407.50" y="241.61" width="7.20" height="9.75" fill="#c6d4e7"/>
<rect x="414.40" y="241.61" width="7.20" height="9.75" fill="#b9cde6"/>
<rect x="421.30" y="241.61" width="7.20" height="9.75" fill="#9d8ecd"/>
<rect x="428.20" y="241.61" width="7.20" height="9.75" fill="#8968b9"/>
<rect x="435.10" y="241.61" width="7.20" height="9.75" fill="#8968b9"/>
<rect x="442.00" y="241.61" width="7.20" height="9.75" fill="#937bc3"/>
<rect x="448.90" y="241.61" width="7.20" height="9.75" fill="#b9cde6"/>
<rect x="455.80" y="241.61" width="7.20" height="9.75" fill="#a7a2d6"/>
<rect x="462.70" y="241.61" width="7.20" height="9.75" fill="#937bc3"/>
<rect x="469.60" y="241.61" width="7.20" height="9.75" fill="#b9cde6"/>
<rect x="476.50" y="241.61" width="7.20" height="9.75" fill="#a7a2d6"/>
<rect x="483.40" y="241.61" width="7.20" height="9.75" fill="#937bc3"/>
<rect x="345.40" y="251.07" width="7.20" height="9.75" fill="#b9cde6"/>
<rect x="352.30" y="251.07" width="7.20" height="9.75" fill="#b0b7df"/>
<rect x="359.20" y="251.07" width="7.20" height="9.75" fill="#fde8d8"/>
<rect x="366.10" y="251.07" width="7.20" height="9.75" fill="#c6d4e7"/>
<rect x="373.00" y="251.07" width="7.20" height="9.75" fill="#c6d4e7"/>
<rect x="379.90" y="251.07" width="7.20" height="9.75" fill="#b9cde6"/>
<rect x="386.80" y="251.07" width="7.20" height="9.75" fill="#cfd8e5"/>
<rect x="393.70" y="251.07" width="7.20" height="9.75" fill="#b9cde6"/>
<rect x="400.60" y="251.07" width="7.20" height="9.75" fill="#c6d4e7"/>
<rect x="407.50" y="251.07" width="7.20" height="9.75" fill="#cfd8e5"/>
<rect x="414.40" y="251.07" width="7.20" height="9.75" fill="#b9cde6"/>
<rect x="421.30" y="251.07" width="7.20" height="9.75" fill="#c6d4e7"/>
<rect x="428.20" y="251.07" width="7.20" height="9.75" fill="#a7a2d6"/>
<rect x="435.10" y="251.07" width="7.20" height="9.75" fill="#a7a2d6"/>
<rect x="442.00" y="251.07" width="7.20" height="9.75" fill="#937bc3"/>
<rect x="448.90" y="251.07" width="7.20" height="9.75" fill="#c6d4e7"/>
<rect x="455.80" y="251.07" width="7.20" height="9.75" fill="#8968b9"/>
<rect x="462.70" y="251.07" width="7.20" height="9.75" fill="#f3e4dc"/>
<rect x="469.60" y="251.07" width="7.20" height="9.75" fill="#c6d4e7"/>
<rect x="476.50" y="251.07" width="7.20" height="9.75" fill="#ebe2df"/>
<rect x="483.40" y="251.07" width="7.20" height="9.75" fill="#c6d4e7"/>
<rect x="359.20" y="260.52" width="7.20" height="9.75" fill="#b9cde6"/>
<rect x="366.10" y="260.52" width="7.20" height="9.75" fill="#b9cde6"/>
<rect x="373.00" y="260.52" width="7.20" height="9.75" fill="#b9cde6"/>
<rect x="379.90" y="260.52" width="7.20" height="9.75" fill="#c6d4e7"/>
<rect x="386.80" y="260.52" width="7.20" height="9.75" fill="#c6d4e7"/>
<rect x="393.70" y="260.52" width="7.20" height="9.75" fill="#8968b9"/>
<rect x="400.60" y="260.52" width="7.20" height="9.75" fill="#c6d4e7"/>
<rect x="407.50" y="260.52" width="7.20" height="9.75" fill="#c6d4e7"/>
<rect x="414.40" y="260.52" width="7.20" height="9.75" fill="#8968b9"/>
<rect x="421.30" y="260.52" width="7.20" height="9.75" fill="#c6d4e7"/>
<rect x="428.20" y="260.52" width="7.20" height="9.75" fill="#cfd8e5"/>
<rect x="435.10" y="260.52" width="7.20" height="9.75" fill="#b9cde6"/>
<rect x="442.00" y="260.52" width="7.20" height="9.75" fill="#b9cde6"/>
<rect x="448.90" y="260.52" width="7.20" height="9.75" fill="#b9cde6"/>
<rect x="455.80" y="260.52" width="7.20" height="9.75" fill="#c6d4e7"/>
<rect x="462.70" y="260.52" width="7.20" height="9.75" fill="#b0b7df"/>
<rect x="469.60" y="260.52" width="7.20" height="9.75" fill="#d8dce4"/>
<rect x="476.50" y="260.52" width="7.20" height="9.75" fill="#d8dce4"/>
<rect x="483.40" y="260.52" width="7.20" height="9.75" fill="#cfd8e5"/>
<rect x="345.40" y="269.97" width="7.20" height="9.75" fill="#d8dce4"/>
<rect x="352.30" y="269.97" width="7.20" height="9.75" fill="#b9cde6"/>
<rect x="359.20" y="269.97" width="7.20" height="9.75" fill="#8968b9"/>
<rect x="366.10" y="269.97" width="7.20" height="9.75" fill="#8968b9"/>
<rect x="373.00" y="269.97" width="7.20" height="9.75" fill="#cfd8e5"/>
<rect x="379.90" y="269.97" width="7.20" height="9.75" fill="#cfd8e5"/>
<rect x="386.80" y="269.97" width="7.20" height="9.75" fill="#cfd8e5"/>
<rect x="393.70" y="269.97" width="7.20" height="9.75" fill="#cfd8e5"/>
<rect x="400.60" y="269.97" width="7.20" height="9.75" fill="#d8dce4"/>
<rect x="407.50" y="269.97" width="7.20" height="9.75" fill="#d8dce4"/>
<rect x="414.40" y="269.97" width="7.20" height="9.75" fill="#cfd8e5"/>
<rect x="421.30" y="269.97" width="7.20" height="9.75" fill="#cfd8e5"/>
<rect x="428.20" y="269.97" width="7.20" height="9.75" fill="#b0b7df"/>
<rect x="435.10" y="269.97" width="7.20" height="9.75" fill="#8968b9"/>
<rect x="442.00" y="269.97" width="7.20" height="9.75" fill="#b0b7df"/>
<rect x="448.90" y="269.97" width="7.20" height="9.75" fill="#b0b7df"/>
<rect x="455.80" y="269.97" width="7.20" height="9.75" fill="#b9cde6"/>
<rect x="462.70" y="269.97" width="7.20" height="9.75" fill="#8968b9"/>
<rect x="469.60" y="269.97" width="7.20" height="9.75" fill="#c6d4e7"/>
<rect x="476.50" y="269.97" width="7.20" height="9.75" fill="#c6d4e7"/>
<rect x="345.40" y="279.43" width="7.20" height="9.75" fill="#b9cde6"/>
<rect x="352.30" y="279.43" width="7.20" height="9.75" fill="#8968b9"/>
<rect x="359.20" y="279.43" width="7.20" height="9.75" fill="#8968b9"/>
<rect x="366.10" y="279.43" width="7.20" height="9.75" fill="#c6d4e7"/>
<rect x="373.00" y="279.43" width="7.20" height="9.75" fill="#c6d4e7"/>
<rect x="379.90" y="279.43" width="7.20" height="9.75" fill="#c6d4e7"/>
<rect x="386.80" y="279.43" width="7.20" height="9.75" fill="#c6d4e7"/>
<rect x="393.70" y="279.43" width="7.20" height="9.75" fill="#cfd8e5"/>
<rect x="400.60" y="279.43" width="7.20" height="9.75" fill="#d8dce4"/>
<rect x="407.50" y="279.43" width="7.20" height="9.75" fill="#cfd8e5"/>
<rect x="414.40" y="279.43" width="7.20" height="9.75" fill="#cfd8e5"/>
<rect x="421.30" y="279.43" width="7.20" height="9.75" fill="#d8dce4"/>
<rect x="428.20" y="279.43" width="7.20" height="9.75" fill="#a7a2d6"/>
<rect x="435.10" y="279.43" width="7.20" height="9.75" fill="#a7a2d6"/>
<rect x="442.00" y="279.43" width="7.20" height="9.75" fill="#b9cde6"/>
<rect x="448.90" y="279.43" width="7.20" height="9.75" fill="#cfd8e5"/>
<rect x="455.80" y="279.43" width="7.20" height="9.75" fill="#c6d4e7"/>
<rect x="462.70" y="279.43" width="7.20" height="9.75" fill="#c6d4e7"/>
<rect x="469.60" y="279.43" width="7.20" height="9.75" fill="#c6d4e7"/>
<rect x="476.50" y="279.43" width="7.20" height="9.75" fill="#b9cde6"/>
<rect x="483.40" y="279.43" width="7.20" height="9.75" fill="#b9cde6"/>
<rect x="359.20" y="288.88" width="7.20" height="9.75" fill="#fde8d8"/>
<rect x="366.10" y="288.88" width="7.20" height="9.75" fill="#d8dce4"/>
<rect x="373.00" y="288.88" width="7.20" height="9.75" fill="#d8dce4"/>
<rect x="379.90" y="288.88" width="7.20" height="9.75" fill="#cfd8e5"/>
<rect x="386.80" y="288.88" width="7.20" height="9.75" fill="#cfd8e5"/>
<rect x="393.70" y="288.88" width="7.20" height="9.75" fill="#cfd8e5"/>
<rect x="400.60" y="288.88" width="7.20" height="9.75" fill="#c6d4e7"/>
<rect x="407.50" y="288.88" width="7.20" height="9.75" fill="#cfd8e5"/>
<rect x="414.40" y="288.88" width="7.20" height="9.75" fill="#cfd8e5"/>
<rect x="421.30" y="288.88" width="7.20" height="9.75" fill="#c6d4e7"/>
<rect x="428.20" y="288.88" width="7.20" height="9.75" fill="#8968b9"/>
<rect x="435.10" y="288.88" width="7.20" height="9.75" fill="#a7a2d6"/>
<rect x="442.00" y="288.88" width="7.20" height="9.75" fill="#937bc3"/>
<rect x="448.90" y="288.88" width="7.20" height="9.75" fill="#b9cde6"/>
<rect x="455.80" y="288.88" width="7.20" height="9.75" fill="#d8dce4"/>
<rect x="462.70" y="288.88" width="7.20" height="9.75" fill="#c6d4e7"/>
<rect x="469.60" y="288.88" width="7.20" height="9.75" fill="#d8dce4"/>
<rect x="476.50" y="288.88" width="7.20" height="9.75" fill="#e2e1e2"/>
<rect x="352.30" y="298.33" width="7.20" height="9.75" fill="#b9cde6"/>
<rect x="359.20" y="298.33" width="7.20" height="9.75" fill="#f3e4dc"/>
<rect x="366.10" y="298.33" width="7.20" height="9.75" fill="#b9cde6"/>
<rect x="373.00" y="298.33" width="7.20" height="9.75" fill="#b9cde6"/>
<rect x="379.90" y="298.33" width="7.20" height="9.75" fill="#f3e4dc"/>
<rect x="386.80" y="298.33" width="7.20" height="9.75" fill="#b9cde6"/>
<rect x="393.70" y="298.33" width="7.20" height="9.75" fill="#d8dce4"/>
<rect x="400.60" y="298.33" width="7.20" height="9.75" fill="#ebe2df"/>
<rect x="407.50" y="298.33" width="7.20" height="9.75" fill="#b9cde6"/>
<rect x="414.40" y="298.33" width="7.20" height="9.75" fill="#cfd8e5"/>
<rect x="421.30" y="298.33" width="7.20" height="9.75" fill="#a7a2d6"/>
<rect x="428.20" y="298.33" width="7.20" height="9.75" fill="#937bc3"/>
<rect x="435.10" y="298.33" width="7.20" height="9.75" fill="#c6d4e7"/>
<rect x="442.00" y="298.33" width="7.20" height="9.75" fill="#937bc3"/>
<rect x="448.90" y="298.33" width="7.20" height="9.75" fill="#c6d4e7"/>
<rect x="455.80" y="298.33" width="7.20" height="9.75" fill="#cfd8e5"/>
<rect x="462.70" y="298.33" width="7.20" height="9.75" fill="#c6d4e7"/>
<rect x="469.60" y="298.33" width="7.20" height="9.75" fill="#cfd8e5"/>
<rect x="476.50" y="298.33" width="7.20" height="9.75" fill="#b0b7df"/>
<rect x="359.20" y="307.79" width="7.20" height="9.75" fill="#e2e1e2"/>
<rect x="366.10" y="307.79" width="7.20" height="9.75" fill="#f3e4dc"/>
<rect x="373.00" y="307.79" width="7.20" height="9.75" fill="#e2e1e2"/>
<rect x="379.90" y="307.79" width="7.20" height="9.75" fill="#d8dce4"/>
<rect x="386.80" y="307.79" width="7.20" height="9.75" fill="#8968b9"/>
<rect x="393.70" y="307.79" width="7.20" height="9.75" fill="#d8dce4"/>
<rect x="400.60" y="307.79" width="7.20" height="9.75" fill="#e2e1e2"/>
<rect x="407.50" y="307.79" width="7.20" height="9.75" fill="#d8dce4"/>
<rect x="414.40" y="307.79" width="7.20" height="9.75" fill="#d8dce4"/>
<rect x="421.30" y="307.79" width="7.20" height="9.75" fill="#e2e1e2"/>
<rect x="428.20" y="307.79" width="7.20" height="9.75" fill="#b9cde6"/>
<rect x="435.10" y="307.79" width="7.20" height="9.75" fill="#b9cde6"/>
<rect x="442.00" y="307.79" width="7.20" height="9.75" fill="#b0b7df"/>
<rect x="448.90" y="307.79" width="7.20" height="9.75" fill="#ebe2df"/>
<rect x="455.80" y="307.79" width="7.20" height="9.75" fill="#9d8ecd"/>
<rect x="462.70" y="307.79" width="7.20" height="9.75" fill="#e2e1e2"/>
<rect x="469.60" y="307.79" width="7.20" height="9.75" fill="#c6d4e7"/>
<rect x="476.50" y="307.79" width="7.20" height="9.75" fill="#c6d4e7"/>
<rect x="345.40" y="317.24" width="7.20" height="9.75" fill="#b9cde6"/>
<rect x="359.20" y="317.24" width="7.20" height="9.75" fill="#ebe2df"/>
<rect x="366.10" y="317.24" width="7.20" height="9.75" fill="#f3e4dc"/>
<rect x="373.00" y="317.24" width="7.20" height="9.75" fill="#ebe2df"/>
<rect x="379.90" y="317.24" width="7.20" height="9.75" fill="#e2e1e2"/>
<rect x="386.80" y="317.24" width="7.20" height="9.75" fill="#8968b9"/>
<rect x="393.70" y="317.24" width="7.20" height="9.75" fill="#e2e1e2"/>
<rect x="400.60" y="317.24" width="7.20" height="9.75" fill="#f3e4dc"/>
<rect x="407.50" y="317.24" width="7.20" height="9.75" fill="#ebe2df"/>
<rect x="414.40" y="317.24" width="7.20" height="9.75" fill="#e2e1e2"/>
<rect x="421.30" y="317.24" width="7.20" height="9.75" fill="#e2e1e2"/>
<rect x="428.20" y="317.24" width="7.20" height="9.75" fill="#b9cde6"/>
<rect x="435.10" y="317.24" width="7.20" height="9.75" fill="#9d8ecd"/>
<rect x="442.00" y="317.24" width="7.20" height="9.75" fill="#c6d4e7"/>
<rect x="448.90" y="317.24" width="7.20" height="9.75" fill="#e2e1e2"/>
<rect x="455.80" y="317.24" width="7.20" height="9.75" fill="#cfd8e5"/>
<rect x="462.70" y="317.24" width="7.20" height="9.75" fill="#e2e1e2"/>
<rect x="469.60" y="317.24" width="7.20" height="9.75" fill="#ebe2df"/>
<rect x="476.50" y="317.24" width="7.20" height="9.75" fill="#ebe2df"/>
<rect x="483.40" y="317.24" width="7.20" height="9.75" fill="#e2e1e2"/>
<rect x="359.20" y="326.69" width="7.20" height="9.75" fill="#ebe2df"/>
<rect x="366.10" y="326.69" width="7.20" height="9.75" fill="#f3e4dc"/>
<rect x="373.00" y="326.69" width="7.20" height="9.75" fill="#e2e1e2"/>
<rect x="379.90" y="326.69" width="7.20" height="9.75" fill="#e2e1e2"/>
<rect x="386.80" y="326.69" width="7.20" height="9.75" fill="#d8dce4"/>
<rect x="393.70" y="326.69" width="7.20" height="9.75" fill="#ebe2df"/>
<rect x="400.60" y="326.69" width="7.20" height="9.75" fill="#f3e4dc"/>
<rect x="407.50" y="326.69" width="7.20" height="9.75" fill="#e2e1e2"/>
<rect x="414.40" y="326.69" width="7.20" height="9.75" fill="#e2e1e2"/>
<rect x="421.30" y="326.69" width="7.20" height="9.75" fill="#f3e4dc"/>
<rect x="428.20" y="326.69" width="7.20" height="9.75" fill="#e2e1e2"/>
<rect x="435.10" y="326.69" width="7.20" height="9.75" fill="#fde8d8"/>
<rect x="442.00" y="326.69" width="7.20" height="9.75" fill="#cfd8e5"/>
<rect x="448.90" y="326.69" width="7.20" height="9.75" fill="#f3e4dc"/>
<rect x="455.80" y="326.69" width="7.20" height="9.75" fill="#d8dce4"/>
<rect x="462.70" y="326.69" width="7.20" height="9.75" fill="#e2e1e2"/>
<rect x="469.60" y="326.69" width="7.20" height="9.75" fill="#f3e4dc"/>
<rect x="476.50" y="326.69" width="7.20" height="9.75" fill="#f3e4dc"/>
<rect x="373.00" y="336.15" width="7.20" height="9.75" fill="#e2e1e2"/>
<rect x="379.90" y="336.15" width="7.20" height="9.75" fill="#e2e1e2"/>
<rect x="386.80" y="336.15" width="7.20" height="9.75" fill="#e2e1e2"/>
<rect x="393.70" y="336.15" width="7.20" height="9.75" fill="#e2e1e2"/>
<rect x="400.60" y="336.15" width="7.20" height="9.75" fill="#f3e4dc"/>
<rect x="407.50" y="336.15" width="7.20" height="9.75" fill="#ebe2df"/>
<rect x="414.40" y="336.15" width="7.20" height="9.75" fill="#e2e1e2"/>
<rect x="421.30" y="336.15" width="7.20" height="9.75" fill="#ebe2df"/>
<rect x="428.20" y="336.15" width="7.20" height="9.75" fill="#ebe2df"/>
<rect x="442.00" y="336.15" width="7.20" height="9.75" fill="#c6d4e7"/>
<rect x="448.90" y="336.15" width="7.20" height="9.75" fill="#f3e4dc"/>
<rect x="455.80" y="336.15" width="7.20" height="9.75" fill="#f3e4dc"/>
<rect x="462.70" y="336.15" width="7.20" height="9.75" fill="#b9cde6"/>
<path d="M490.3 203.8 V345.6 H345.4" fill="none" stroke="#b0b0b0" stroke-width="0.9"/>
<path d="M345.4 345.6 V203.8 H490.3" fill="none" stroke="#6e6e6e" stroke-width="0.9"/>
<rect x="503.50" y="203.80" width="17.61" height="12.12" fill="#b1b9e0"/>
<rect x="520.81" y="203.80" width="17.61" height="12.12" fill="#b9cde7"/>
<rect x="538.12" y="203.80" width="17.61" height="12.12" fill="#b1b9e0"/>
<rect x="555.44" y="203.80" width="17.61" height="12.12" fill="#b9cde7"/>
<rect x="572.75" y="203.80" width="17.61" height="12.12" fill="#b1b9e0"/>
<rect x="590.06" y="203.80" width="17.61" height="12.12" fill="#b9cde7"/>
<rect x="607.38" y="203.80" width="17.61" height="12.12" fill="#b9cde7"/>
<rect x="624.69" y="203.80" width="17.61" height="12.12" fill="#b9cde7"/>
<rect x="503.50" y="215.62" width="17.61" height="12.12" fill="#b1b9e0"/>
<rect x="520.81" y="215.62" width="17.61" height="12.12" fill="#a9a9d9"/>
<rect x="538.12" y="215.62" width="17.61" height="12.12" fill="#b1b9e0"/>
<rect x="555.44" y="215.62" width="17.61" height="12.12" fill="#b1b9e0"/>
<rect x="572.75" y="215.62" width="17.61" height="12.12" fill="#b1b9e0"/>
<rect x="590.06" y="215.62" width="17.61" height="12.12" fill="#a9a9d9"/>
<rect x="607.38" y="215.62" width="17.61" height="12.12" fill="#b9cde7"/>
<rect x="624.69" y="215.62" width="17.61" height="12.12" fill="#ffffff"/>
<rect x="503.50" y="227.43" width="17.61" height="12.12" fill="#b1b9e0"/>
<rect x="520.81" y="227.43" width="17.61" height="12.12" fill="#b1b9e0"/>
<rect x="538.12" y="227.43" width="17.61" height="12.12" fill="#b1b9e0"/>
<rect x="555.44" y="227.43" width="17.61" height="12.12" fill="#b9cde7"/>
<rect x="572.75" y="227.43" width="17.61" height="12.12" fill="#b1b9e0"/>
<rect x="590.06" y="227.43" width="17.61" height="12.12" fill="#b9cde7"/>
<rect x="607.38" y="227.43" width="17.61" height="12.12" fill="#b9cde7"/>
<rect x="624.69" y="227.43" width="17.61" height="12.12" fill="#b9cde7"/>
<rect x="503.50" y="239.25" width="17.61" height="12.12" fill="#b1b9e0"/>
<rect x="520.81" y="239.25" width="17.61" height="12.12" fill="#b1b9e0"/>
<rect x="538.12" y="239.25" width="17.61" height="12.12" fill="#b1b9e0"/>
<rect x="555.44" y="239.25" width="17.61" height="12.12" fill="#b1b9e0"/>
<rect x="572.75" y="239.25" width="17.61" height="12.12" fill="#b1b9e0"/>
<rect x="590.06" y="239.25" width="17.61" height="12.12" fill="#b1b9e0"/>
<rect x="607.38" y="239.25" width="17.61" height="12.12" fill="#b9cde7"/>
<rect x="624.69" y="239.25" width="17.61" height="12.12" fill="#b9cde7"/>
<rect x="503.50" y="251.07" width="17.61" height="12.12" fill="#b1b9e0"/>
<rect x="520.81" y="251.07" width="17.61" height="12.12" fill="#b1b9e0"/>
<rect x="538.12" y="251.07" width="17.61" height="12.12" fill="#a9a9d9"/>
<rect x="555.44" y="251.07" width="17.61" height="12.12" fill="#a9a9d9"/>
<rect x="572.75" y="251.07" width="17.61" height="12.12" fill="#a9a9d9"/>
<rect x="590.06" y="251.07" width="17.61" height="12.12" fill="#a9a9d9"/>
<rect x="607.38" y="251.07" width="17.61" height="12.12" fill="#b9cde7"/>
<rect x="624.69" y="251.07" width="17.61" height="12.12" fill="#b9cde7"/>
<rect x="503.50" y="262.88" width="17.61" height="12.12" fill="#a9a9d9"/>
<rect x="520.81" y="262.88" width="17.61" height="12.12" fill="#a9a9d9"/>
<rect x="538.12" y="262.88" width="17.61" height="12.12" fill="#b1b9e0"/>
<rect x="555.44" y="262.88" width="17.61" height="12.12" fill="#b1b9e0"/>
<rect x="572.75" y="262.88" width="17.61" height="12.12" fill="#a9a9d9"/>
<rect x="590.06" y="262.88" width="17.61" height="12.12" fill="#b9cde7"/>
<rect x="607.38" y="262.88" width="17.61" height="12.12" fill="#b1b9e0"/>
<rect x="624.69" y="262.88" width="17.61" height="12.12" fill="#b9cde7"/>
<rect x="503.50" y="274.70" width="17.61" height="12.12" fill="#b9cde7"/>
<rect x="520.81" y="274.70" width="17.61" height="12.12" fill="#b1b9e0"/>
<rect x="538.12" y="274.70" width="17.61" height="12.12" fill="#b1b9e0"/>
<rect x="555.44" y="274.70" width="17.61" height="12.12" fill="#b1b9e0"/>
<rect x="572.75" y="274.70" width="17.61" height="12.12" fill="#b1b9e0"/>
<rect x="590.06" y="274.70" width="17.61" height="12.12" fill="#b1b9e0"/>
<rect x="607.38" y="274.70" width="17.61" height="12.12" fill="#b1b9e0"/>
<rect x="624.69" y="274.70" width="17.61" height="12.12" fill="#b9cde7"/>
<rect x="503.50" y="286.52" width="17.61" height="12.12" fill="#b9cde7"/>
<rect x="520.81" y="286.52" width="17.61" height="12.12" fill="#b9cde7"/>
<rect x="538.12" y="286.52" width="17.61" height="12.12" fill="#b1b9e0"/>
<rect x="555.44" y="286.52" width="17.61" height="12.12" fill="#b1b9e0"/>
<rect x="572.75" y="286.52" width="17.61" height="12.12" fill="#b9cde7"/>
<rect x="590.06" y="286.52" width="17.61" height="12.12" fill="#b1b9e0"/>
<rect x="607.38" y="286.52" width="17.61" height="12.12" fill="#b1b9e0"/>
<rect x="624.69" y="286.52" width="17.61" height="12.12" fill="#b9cde7"/>
<rect x="503.50" y="298.33" width="17.61" height="12.12" fill="#b9cde7"/>
<rect x="520.81" y="298.33" width="17.61" height="12.12" fill="#b1b9e0"/>
<rect x="538.12" y="298.33" width="17.61" height="12.12" fill="#b1b9e0"/>
<rect x="555.44" y="298.33" width="17.61" height="12.12" fill="#b9cde7"/>
<rect x="572.75" y="298.33" width="17.61" height="12.12" fill="#b1b9e0"/>
<rect x="590.06" y="298.33" width="17.61" height="12.12" fill="#b9cde7"/>
<rect x="607.38" y="298.33" width="17.61" height="12.12" fill="#b9cde7"/>
<rect x="624.69" y="298.33" width="17.61" height="12.12" fill="#ffffff"/>
<rect x="503.50" y="310.15" width="17.61" height="12.12" fill="#b1b9e0"/>
<rect x="520.81" y="310.15" width="17.61" height="12.12" fill="#b1b9e0"/>
<rect x="538.12" y="310.15" width="17.61" height="12.12" fill="#b1b9e0"/>
<rect x="555.44" y="310.15" width="17.61" height="12.12" fill="#b1b9e0"/>
<rect x="572.75" y="310.15" width="17.61" height="12.12" fill="#b9cde7"/>
<rect x="590.06" y="310.15" width="17.61" height="12.12" fill="#b9cde7"/>
<rect x="607.38" y="310.15" width="17.61" height="12.12" fill="#b9cde7"/>
<rect x="624.69" y="310.15" width="17.61" height="12.12" fill="#b9cde7"/>
<rect x="503.50" y="321.97" width="17.61" height="12.12" fill="#b1b9e0"/>
<rect x="520.81" y="321.97" width="17.61" height="12.12" fill="#b1b9e0"/>
<rect x="538.12" y="321.97" width="17.61" height="12.12" fill="#b1b9e0"/>
<rect x="555.44" y="321.97" width="17.61" height="12.12" fill="#b1b9e0"/>
<rect x="572.75" y="321.97" width="17.61" height="12.12" fill="#b1b9e0"/>
<rect x="590.06" y="321.97" width="17.61" height="12.12" fill="#b9cde7"/>
<rect x="607.38" y="321.97" width="17.61" height="12.12" fill="#b9cde7"/>
<rect x="624.69" y="321.97" width="17.61" height="12.12" fill="#b9cde7"/>
<rect x="503.50" y="333.78" width="17.61" height="12.12" fill="#b1b9e0"/>
<rect x="520.81" y="333.78" width="17.61" height="12.12" fill="#b1b9e0"/>
<rect x="538.12" y="333.78" width="17.61" height="12.12" fill="#b1b9e0"/>
<rect x="555.44" y="333.78" width="17.61" height="12.12" fill="#b1b9e0"/>
<rect x="572.75" y="333.78" width="17.61" height="12.12" fill="#b1b9e0"/>
<rect x="590.06" y="333.78" width="17.61" height="12.12" fill="#b9cde7"/>
<rect x="607.38" y="333.78" width="17.61" height="12.12" fill="#b9cde7"/>
<rect x="624.69" y="333.78" width="17.61" height="12.12" fill="#b9cde7"/>
<rect x="503.5" y="203.8" width="138.5" height="141.8" fill="none" stroke="#505050" stroke-width="0.8"/>
<text x="345.3" y="198.4" font-size="9.9" text-anchor="start" font-weight="bold" fill="#111" >No bias</text>
<text x="503.3" y="198.4" font-size="9.9" text-anchor="start" font-weight="bold" fill="#111" >After SEBi correction</text>
<text x="340" y="206.79999999999998" font-size="9" text-anchor="end" font-weight="normal" fill="#222" >35</text>
<text x="340" y="242.1" font-size="9" text-anchor="end" font-weight="normal" fill="#222" >20</text>
<text x="340" y="277.5" font-size="9" text-anchor="end" font-weight="normal" fill="#222" >0</text>
<text x="340" y="312.8" font-size="9" text-anchor="end" font-weight="normal" fill="#222" >-20</text>
<text x="340" y="348.09999999999997" font-size="9" text-anchor="end" font-weight="normal" fill="#222" >-35</text>
<text x="345.5" y="359" font-size="9" text-anchor="middle" font-weight="normal" fill="#222" >-35</text>
<text x="379.6" y="359" font-size="9" text-anchor="middle" font-weight="normal" fill="#222" >-20</text>
<text x="414.8" y="359" font-size="9" text-anchor="middle" font-weight="normal" fill="#222" >0</text>
<text x="448.2" y="359" font-size="9" text-anchor="middle" font-weight="normal" fill="#222" >20</text>
<text x="483.4" y="359" font-size="9" text-anchor="middle" font-weight="normal" fill="#222" >35</text>
<text x="504.0" y="359" font-size="9" text-anchor="middle" font-weight="normal" fill="#222" >-35</text>
<text x="537.9" y="359" font-size="9" text-anchor="middle" font-weight="normal" fill="#222" >-20</text>
<text x="573.8" y="359" font-size="9" text-anchor="middle" font-weight="normal" fill="#222" >0</text>
<text x="606.8" y="359" font-size="9" text-anchor="middle" font-weight="normal" fill="#222" >20</text>
<text x="642.2" y="359" font-size="9" text-anchor="middle" font-weight="normal" fill="#222" >35</text>
<text x="414.9" y="367.0" font-size="9.2" text-anchor="middle" font-weight="normal" fill="#222" >Position X, mm</text>
<text x="573.6" y="367.0" font-size="9.2" text-anchor="middle" font-weight="normal" fill="#222" >Position X, mm</text>
<text x="0" y="0" font-size="9.1" text-anchor="middle" font-weight="normal" fill="#222" transform="translate(324.7,273.3) rotate(-90)">Position Y, mm</text>
<text x="381.4" y="279" font-size="12.6" font-weight="bold" fill="#000">CV<tspan font-size="8.6" dy="3.4">A</tspan><tspan dy="-3.4"> = 6,0%</tspan></text>
<text x="540.5" y="279" font-size="12.6" font-weight="bold" fill="#000">CV<tspan font-size="8.6" dy="3.4">A</tspan><tspan dy="-3.4"> = 1,0%</tspan></text>
<text x="350.4" y="329.6" font-size="8.75" fill="#222">A<tspan font-size="6.1" dy="1.1">nom</tspan><tspan dy="-1.1"> = 0.090 µm</tspan><tspan font-size="6.2" dy="-3.2">2</tspan></text>
<text x="350.4" y="340.0" font-size="8.75" fill="#222">W<tspan font-size="6.2" dy="1.4">bot</tspan><tspan dy="-1.4"> = 130 nm, W</tspan><tspan font-size="6.2" dy="1.4">top</tspan><tspan dy="-1.4"> = 670 nm</tspan></text>
<text x="508.0" y="329.6" font-size="8.75" fill="#222">A<tspan font-size="6.1" dy="1.1">nom</tspan><tspan dy="-1.1"> = 0.090 µm</tspan><tspan font-size="6.2" dy="-3.2">2</tspan></text>
<text x="508.0" y="340.0" font-size="8.75" fill="#222">W<tspan font-size="6.2" dy="1.4">bot</tspan><tspan dy="-1.4"> = 130 nm, W</tspan><tspan font-size="6.2" dy="1.4">top</tspan><tspan dy="-1.4"> = 670 nm</tspan></text>
<rect x="651" y="203.20" width="14.600000000000023" height="9.74" fill="#7130a2"/>
<rect x="651" y="212.64" width="14.600000000000023" height="9.74" fill="#7f54af"/>
<rect x="651" y="222.08" width="14.600000000000023" height="9.74" fill="#8968b9"/>
<rect x="651" y="231.52" width="14.600000000000023" height="9.74" fill="#937bc3"/>
<rect x="651" y="240.96" width="14.600000000000023" height="9.74" fill="#9d8ecd"/>
<rect x="651" y="250.40" width="14.600000000000023" height="9.74" fill="#a7a2d6"/>
<rect x="651" y="259.84" width="14.600000000000023" height="9.74" fill="#b0b7df"/>
<rect x="651" y="269.28" width="14.600000000000023" height="9.74" fill="#b9cde6"/>
<rect x="651" y="278.72" width="14.600000000000023" height="9.74" fill="#c6d4e7"/>
<rect x="651" y="288.16" width="14.600000000000023" height="9.74" fill="#cfd8e5"/>
<rect x="651" y="297.60" width="14.600000000000023" height="9.74" fill="#d8dce4"/>
<rect x="651" y="307.04" width="14.600000000000023" height="9.74" fill="#e2e1e2"/>
<rect x="651" y="316.48" width="14.600000000000023" height="9.74" fill="#ebe2df"/>
<rect x="651" y="325.92" width="14.600000000000023" height="9.74" fill="#f3e4dc"/>
<rect x="651" y="335.36" width="14.600000000000023" height="9.74" fill="#fde8d8"/>
<rect x="651" y="203.2" width="14.600000000000023" height="141.60000000000002" fill="none" stroke="#333" stroke-width="0.8"/>
<text x="667.6" y="210.79999999999998" font-size="8.8" text-anchor="start" font-weight="normal" fill="#222" >0.10</text>
<text x="667.6" y="275.1" font-size="8.8" text-anchor="start" font-weight="normal" fill="#222" >0.09</text>
<text x="667.6" y="344.0" font-size="8.8" text-anchor="start" font-weight="normal" fill="#222" >0.08</text>
<text x="645.6" y="199.89999999999998" font-size="9" fill="#222">A, µm<tspan font-size="6.2" dy="-3.3">2</tspan></text>
<text x="2.0" y="231.6" font-size="13.3" text-anchor="start" font-weight="bold" fill="#111" >b)</text>
<rect x="34.8" y="228.1" width="78.2" height="75" fill="#ac9dc8"/>
<rect x="34.8" y="228.1" width="78.2" height="75.00000000000003" fill="none" stroke="#666" stroke-width="0.8"/>
<rect x="130" y="228.1" width="77" height="75" fill="#fbd4b4"/>
<rect x="139.9" y="228.1" width="57.2" height="75" fill="#adbad2"/>
<rect x="149" y="228.1" width="39" height="75" fill="#ac9dc8"/>
<rect x="130" y="228.1" width="77" height="75.00000000000003" fill="none" stroke="#666" stroke-width="0.8"/>
<rect x="222.6" y="228.1" width="77.6" height="75" fill="#d9cbc4"/>
<rect x="222.6" y="228.1" width="10.3" height="49.6" fill="#fbd4b4"/>
<rect x="290.1" y="228.1" width="10.1" height="49.6" fill="#fbd4b4"/>
<path d="M242 228.1 H281 V259.3 H290.1 V272 H271.1 V303.1 H251.6 V272 H232.9 V259.3 H242 Z" fill="#adbad2"/>
<rect x="222.6" y="228.1" width="77.6" height="75.00000000000003" fill="none" stroke="#666" stroke-width="0.8"/>
<text x="40.8" y="241" font-size="10" text-anchor="start" font-weight="bold" fill="#111" >I</text>
<text x="134.9" y="241" font-size="10" text-anchor="start" font-weight="bold" fill="#111" >II</text>
<text x="228.8" y="241" font-size="10" text-anchor="start" font-weight="bold" fill="#111" >III</text>
<text x="32.3" y="235.29999999999998" font-size="9" text-anchor="end" font-weight="normal" fill="#222" >35</text>
<text x="32.3" y="269.59999999999997" font-size="9" text-anchor="end" font-weight="normal" fill="#222" >0</text>
<text x="32.3" y="303.3" font-size="9" text-anchor="end" font-weight="normal" fill="#222" >-35</text>
<text x="38.6" y="312" font-size="9" text-anchor="middle" font-weight="normal" fill="#222" >-35</text>
<text x="73.9" y="312" font-size="9" text-anchor="middle" font-weight="normal" fill="#222" >0</text>
<text x="109.0" y="312" font-size="9" text-anchor="middle" font-weight="normal" fill="#222" >35</text>
<text x="133.0" y="312" font-size="9" text-anchor="middle" font-weight="normal" fill="#222" >-35</text>
<text x="168.0" y="312" font-size="9" text-anchor="middle" font-weight="normal" fill="#222" >0</text>
<text x="203.0" y="312" font-size="9" text-anchor="middle" font-weight="normal" fill="#222" >35</text>
<text x="228.0" y="312" font-size="9" text-anchor="middle" font-weight="normal" fill="#222" >-35</text>
<text x="262.2" y="312" font-size="9" text-anchor="middle" font-weight="normal" fill="#222" >0</text>
<text x="296.8" y="312" font-size="9" text-anchor="middle" font-weight="normal" fill="#222" >35</text>
<text x="168" y="325.4" font-size="9.2" text-anchor="middle" font-weight="normal" fill="#222" >Position X, mm</text>
<text x="0" y="0" font-size="9.2" text-anchor="middle" font-weight="normal" fill="#222" transform="translate(17.7,264.5) rotate(-90)">Position Y, mm</text>
<rect x="35.30" y="331.5" width="17.97" height="14.5" fill="#fde8d8"/>
<rect x="52.97" y="331.5" width="17.97" height="14.5" fill="#f3e4dc"/>
<rect x="70.63" y="331.5" width="17.97" height="14.5" fill="#ebe2df"/>
<rect x="88.30" y="331.5" width="17.97" height="14.5" fill="#e2e1e2"/>
<rect x="105.97" y="331.5" width="17.97" height="14.5" fill="#d8dce4"/>
<rect x="123.63" y="331.5" width="17.97" height="14.5" fill="#cfd8e5"/>
<rect x="141.30" y="331.5" width="17.97" height="14.5" fill="#c6d4e7"/>
<rect x="158.97" y="331.5" width="17.97" height="14.5" fill="#b9cde6"/>
<rect x="176.63" y="331.5" width="17.97" height="14.5" fill="#b0b7df"/>
<rect x="194.30" y="331.5" width="17.97" height="14.5" fill="#a7a2d6"/>
<rect x="211.97" y="331.5" width="17.97" height="14.5" fill="#9d8ecd"/>
<rect x="229.63" y="331.5" width="17.97" height="14.5" fill="#937bc3"/>
<rect x="247.30" y="331.5" width="17.97" height="14.5" fill="#8968b9"/>
<rect x="264.97" y="331.5" width="17.97" height="14.5" fill="#7f54af"/>
<rect x="282.63" y="331.5" width="17.97" height="14.5" fill="#7130a2"/>
<rect x="35.3" y="331.5" width="265.0" height="14.5" fill="none" stroke="#333" stroke-width="0.8"/>
<text x="39.7" y="357.5" font-size="9" text-anchor="middle" font-weight="normal" fill="#222" >10</text>
<text x="104.5" y="357.5" font-size="9" text-anchor="middle" font-weight="normal" fill="#222" >15</text>
<text x="168" y="357.5" font-size="9" text-anchor="middle" font-weight="normal" fill="#222" >20</text>
<text x="233.3" y="357.5" font-size="9" text-anchor="middle" font-weight="normal" fill="#222" >25</text>
<text x="293.8" y="357.5" font-size="9" text-anchor="middle" font-weight="normal" fill="#222" >30</text>
<text x="167.2" y="369.3" font-size="8.75" text-anchor="middle" fill="#222">Bias of bottom electrode (W<tspan font-size="6.2" dy="2">bot</tspan><tspan dy="-2">), nm</tspan></text>
</svg>
</body></html>
